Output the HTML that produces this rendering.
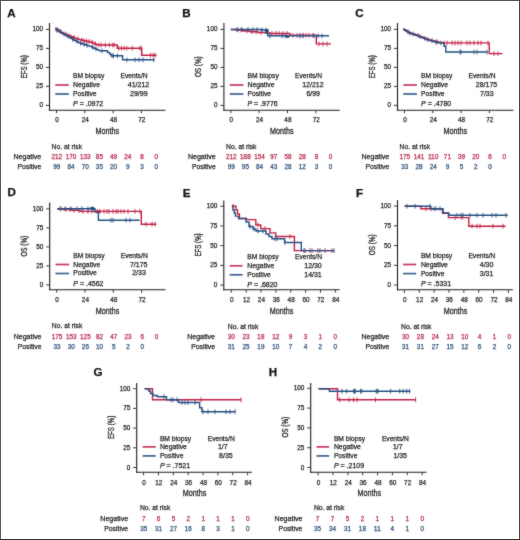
<!DOCTYPE html>
<html><head><meta charset="utf-8"><style>
html,body{margin:0;padding:0;background:#fff;}
svg{display:block;}
text{font-family:"Liberation Sans", sans-serif;paint-order:stroke;}
</style></head><body>
<svg width="520" height="540" viewBox="0 0 520 540">
<defs><filter id="bl" x="0" y="0" width="520" height="540" filterUnits="userSpaceOnUse"><feConvolveMatrix order="3" kernelMatrix="1 2 1 2 24 2 1 2 1" edgeMode="none" preserveAlpha="false"/></filter></defs>
<rect x="0" y="0" width="520" height="540" fill="#fff"/>
<g filter="url(#bl)">
<text x="7.30" y="16.70" font-size="11.6" text-anchor="start" fill="#111" stroke="#111" stroke-width="0.25" font-weight="bold">A</text>
<line x1="49.50" y1="23.00" x2="49.50" y2="110.75" stroke="#222" stroke-width="1.1"/>
<line x1="48.95" y1="110.20" x2="165.40" y2="110.20" stroke="#222" stroke-width="1.1"/>
<line x1="46.00" y1="105.40" x2="49.50" y2="105.40" stroke="#222" stroke-width="0.9"/>
<text x="43.10" y="107.40" font-size="6.9" text-anchor="end" fill="#262626" stroke="#262626" stroke-width="0.25" font-weight="normal" textLength="3.55" lengthAdjust="spacingAndGlyphs">0</text>
<line x1="46.00" y1="86.40" x2="49.50" y2="86.40" stroke="#222" stroke-width="0.9"/>
<text x="43.10" y="88.40" font-size="6.9" text-anchor="end" fill="#262626" stroke="#262626" stroke-width="0.25" font-weight="normal" textLength="7.1" lengthAdjust="spacingAndGlyphs">25</text>
<line x1="46.00" y1="67.40" x2="49.50" y2="67.40" stroke="#222" stroke-width="0.9"/>
<text x="43.10" y="69.40" font-size="6.9" text-anchor="end" fill="#262626" stroke="#262626" stroke-width="0.25" font-weight="normal" textLength="7.1" lengthAdjust="spacingAndGlyphs">50</text>
<line x1="46.00" y1="48.40" x2="49.50" y2="48.40" stroke="#222" stroke-width="0.9"/>
<text x="43.10" y="50.40" font-size="6.9" text-anchor="end" fill="#262626" stroke="#262626" stroke-width="0.25" font-weight="normal" textLength="7.1" lengthAdjust="spacingAndGlyphs">75</text>
<line x1="46.00" y1="29.40" x2="49.50" y2="29.40" stroke="#222" stroke-width="0.9"/>
<text x="43.10" y="31.40" font-size="6.9" text-anchor="end" fill="#262626" stroke="#262626" stroke-width="0.25" font-weight="normal" textLength="10.649999999999999" lengthAdjust="spacingAndGlyphs">100</text>
<line x1="56.50" y1="110.20" x2="56.50" y2="113.20" stroke="#222" stroke-width="0.9"/>
<text x="56.90" y="122.40" font-size="6.9" text-anchor="middle" fill="#262626" stroke="#262626" stroke-width="0.25" font-weight="normal" textLength="3.55" lengthAdjust="spacingAndGlyphs">0</text>
<line x1="84.80" y1="110.20" x2="84.80" y2="113.20" stroke="#222" stroke-width="0.9"/>
<text x="85.20" y="122.40" font-size="6.9" text-anchor="middle" fill="#262626" stroke="#262626" stroke-width="0.25" font-weight="normal" textLength="7.1" lengthAdjust="spacingAndGlyphs">24</text>
<line x1="113.10" y1="110.20" x2="113.10" y2="113.20" stroke="#222" stroke-width="0.9"/>
<text x="113.50" y="122.40" font-size="6.9" text-anchor="middle" fill="#262626" stroke="#262626" stroke-width="0.25" font-weight="normal" textLength="7.1" lengthAdjust="spacingAndGlyphs">48</text>
<line x1="141.40" y1="110.20" x2="141.40" y2="113.20" stroke="#222" stroke-width="0.9"/>
<text x="141.80" y="122.40" font-size="6.9" text-anchor="middle" fill="#262626" stroke="#262626" stroke-width="0.25" font-weight="normal" textLength="7.1" lengthAdjust="spacingAndGlyphs">72</text>
<text transform="translate(26.60,66.70) rotate(-90)" font-size="9.3" text-anchor="middle" fill="#262626" stroke="#262626" stroke-width="0.3" textLength="23.2" lengthAdjust="spacingAndGlyphs">EFS (%)</text>
<text x="107.40" y="134.00" font-size="9.8" text-anchor="middle" fill="#262626" stroke="#262626" stroke-width="0.3" font-weight="normal" textLength="23.6" lengthAdjust="spacingAndGlyphs">Months</text>
<text x="73.10" y="78.10" font-size="7" text-anchor="start" fill="#262626" stroke="#262626" stroke-width="0.25" font-weight="normal" textLength="31.3" lengthAdjust="spacingAndGlyphs">BM biopsy</text>
<text x="120.60" y="78.10" font-size="7" text-anchor="start" fill="#262626" stroke="#262626" stroke-width="0.25" font-weight="normal" textLength="27" lengthAdjust="spacingAndGlyphs">Events/N</text>
<line x1="55.30" y1="85.00" x2="68.90" y2="85.00" stroke="#c8385c" stroke-width="1.7"/>
<line x1="55.30" y1="94.00" x2="68.90" y2="94.00" stroke="#3a6290" stroke-width="1.7"/>
<text x="73.10" y="87.00" font-size="7" text-anchor="start" fill="#262626" stroke="#262626" stroke-width="0.25" font-weight="normal" textLength="27" lengthAdjust="spacingAndGlyphs">Negative</text>
<text x="73.10" y="95.90" font-size="7" text-anchor="start" fill="#262626" stroke="#262626" stroke-width="0.25" font-weight="normal" textLength="23.5" lengthAdjust="spacingAndGlyphs">Positive</text>
<text x="138.50" y="87.00" font-size="7" text-anchor="middle" fill="#262626" stroke="#262626" stroke-width="0.25" font-weight="normal">41/212</text>
<text x="138.80" y="95.90" font-size="7" text-anchor="middle" fill="#262626" stroke="#262626" stroke-width="0.25" font-weight="normal">29/99</text>
<text x="73.10" y="106.30" font-size="7" fill="#262626" stroke="#262626" stroke-width="0.25"><tspan font-style="italic">P</tspan> = .0972</text>
<text x="51.60" y="148.90" font-size="7" text-anchor="start" fill="#262626" stroke="#262626" stroke-width="0.25" font-weight="normal" textLength="30.5" lengthAdjust="spacingAndGlyphs">No. at risk</text>
<text x="41.30" y="159.20" font-size="7" text-anchor="end" fill="#262626" stroke="#262626" stroke-width="0.25" font-weight="normal" textLength="27.8" lengthAdjust="spacingAndGlyphs">Negative</text>
<text x="41.30" y="169.00" font-size="7" text-anchor="end" fill="#262626" stroke="#262626" stroke-width="0.25" font-weight="normal" textLength="23.8" lengthAdjust="spacingAndGlyphs">Positive</text>
<text x="56.80" y="159.20" font-size="7" text-anchor="middle" fill="#b8294c" stroke="#b8294c" stroke-width="0.25" font-weight="normal" textLength="10.649999999999999" lengthAdjust="spacingAndGlyphs">212</text>
<text x="71.00" y="159.20" font-size="7" text-anchor="middle" fill="#b8294c" stroke="#b8294c" stroke-width="0.25" font-weight="normal" textLength="10.649999999999999" lengthAdjust="spacingAndGlyphs">170</text>
<text x="85.20" y="159.20" font-size="7" text-anchor="middle" fill="#b8294c" stroke="#b8294c" stroke-width="0.25" font-weight="normal" textLength="10.649999999999999" lengthAdjust="spacingAndGlyphs">133</text>
<text x="99.40" y="159.20" font-size="7" text-anchor="middle" fill="#b8294c" stroke="#b8294c" stroke-width="0.25" font-weight="normal" textLength="7.1" lengthAdjust="spacingAndGlyphs">85</text>
<text x="113.60" y="159.20" font-size="7" text-anchor="middle" fill="#b8294c" stroke="#b8294c" stroke-width="0.25" font-weight="normal" textLength="7.1" lengthAdjust="spacingAndGlyphs">49</text>
<text x="127.80" y="159.20" font-size="7" text-anchor="middle" fill="#b8294c" stroke="#b8294c" stroke-width="0.25" font-weight="normal" textLength="7.1" lengthAdjust="spacingAndGlyphs">24</text>
<text x="142.00" y="159.20" font-size="7" text-anchor="middle" fill="#b8294c" stroke="#b8294c" stroke-width="0.25" font-weight="normal" textLength="3.55" lengthAdjust="spacingAndGlyphs">8</text>
<text x="156.20" y="159.20" font-size="7" text-anchor="middle" fill="#b8294c" stroke="#b8294c" stroke-width="0.25" font-weight="normal" textLength="3.55" lengthAdjust="spacingAndGlyphs">0</text>
<text x="56.80" y="169.00" font-size="7" text-anchor="middle" fill="#2c5078" stroke="#2c5078" stroke-width="0.25" font-weight="normal" textLength="7.1" lengthAdjust="spacingAndGlyphs">99</text>
<text x="71.00" y="169.00" font-size="7" text-anchor="middle" fill="#2c5078" stroke="#2c5078" stroke-width="0.25" font-weight="normal" textLength="7.1" lengthAdjust="spacingAndGlyphs">84</text>
<text x="85.20" y="169.00" font-size="7" text-anchor="middle" fill="#2c5078" stroke="#2c5078" stroke-width="0.25" font-weight="normal" textLength="7.1" lengthAdjust="spacingAndGlyphs">70</text>
<text x="99.40" y="169.00" font-size="7" text-anchor="middle" fill="#2c5078" stroke="#2c5078" stroke-width="0.25" font-weight="normal" textLength="7.1" lengthAdjust="spacingAndGlyphs">35</text>
<text x="113.60" y="169.00" font-size="7" text-anchor="middle" fill="#2c5078" stroke="#2c5078" stroke-width="0.25" font-weight="normal" textLength="7.1" lengthAdjust="spacingAndGlyphs">20</text>
<text x="127.80" y="169.00" font-size="7" text-anchor="middle" fill="#2c5078" stroke="#2c5078" stroke-width="0.25" font-weight="normal" textLength="3.55" lengthAdjust="spacingAndGlyphs">9</text>
<text x="142.00" y="169.00" font-size="7" text-anchor="middle" fill="#2c5078" stroke="#2c5078" stroke-width="0.25" font-weight="normal" textLength="3.55" lengthAdjust="spacingAndGlyphs">3</text>
<text x="156.20" y="169.00" font-size="7" text-anchor="middle" fill="#2c5078" stroke="#2c5078" stroke-width="0.25" font-weight="normal" textLength="3.55" lengthAdjust="spacingAndGlyphs">0</text>
<path d="M55.40,29.20 H56.96 V30.12 H58.52 V31.04 H60.08 V31.96 H61.64 V32.88 H63.20 V33.80 H64.82 V34.40 H66.44 V35.00 H68.06 V35.60 H69.68 V36.20 H71.30 V36.80 H72.75 V37.32 H74.20 V37.85 H75.65 V38.38 H77.10 V38.90 H78.57 V39.33 H80.05 V39.75 H81.53 V40.17 H83.00 V40.60 H84.58 V40.92 H86.16 V41.24 H87.74 V41.56 H89.32 V41.88 H90.90 V42.20 H92.45 V42.85 H94.00 V43.50 H95.50 V44.25 H97.00 V45.00 H117.30 V48.20 H141.70 V55.20 H156.50" fill="none" stroke="#c21f42" stroke-width="1.4" stroke-linejoin="miter"/>
<line x1="56.00" y1="26.80" x2="56.00" y2="31.60" stroke="#c21f42" stroke-width="0.85"/>
<line x1="58.00" y1="27.72" x2="58.00" y2="32.52" stroke="#c21f42" stroke-width="0.85"/>
<line x1="61.00" y1="29.56" x2="61.00" y2="34.36" stroke="#c21f42" stroke-width="0.85"/>
<line x1="66.00" y1="32.00" x2="66.00" y2="36.80" stroke="#c21f42" stroke-width="0.85"/>
<line x1="70.00" y1="33.80" x2="70.00" y2="38.60" stroke="#c21f42" stroke-width="0.85"/>
<line x1="74.00" y1="34.92" x2="74.00" y2="39.72" stroke="#c21f42" stroke-width="0.85"/>
<line x1="78.00" y1="36.50" x2="78.00" y2="41.30" stroke="#c21f42" stroke-width="0.85"/>
<line x1="82.00" y1="37.77" x2="82.00" y2="42.57" stroke="#c21f42" stroke-width="0.85"/>
<line x1="84.00" y1="38.20" x2="84.00" y2="43.00" stroke="#c21f42" stroke-width="0.85"/>
<line x1="86.50" y1="38.84" x2="86.50" y2="43.64" stroke="#c21f42" stroke-width="0.85"/>
<line x1="89.00" y1="39.16" x2="89.00" y2="43.96" stroke="#c21f42" stroke-width="0.85"/>
<line x1="92.00" y1="39.80" x2="92.00" y2="44.60" stroke="#c21f42" stroke-width="0.85"/>
<line x1="95.00" y1="41.10" x2="95.00" y2="45.90" stroke="#c21f42" stroke-width="0.85"/>
<line x1="99.00" y1="42.60" x2="99.00" y2="47.40" stroke="#c21f42" stroke-width="0.85"/>
<line x1="101.30" y1="42.60" x2="101.30" y2="47.40" stroke="#c21f42" stroke-width="0.85"/>
<line x1="105.40" y1="42.60" x2="105.40" y2="47.40" stroke="#c21f42" stroke-width="0.85"/>
<line x1="109.40" y1="42.60" x2="109.40" y2="47.40" stroke="#c21f42" stroke-width="0.85"/>
<line x1="112.80" y1="42.60" x2="112.80" y2="47.40" stroke="#c21f42" stroke-width="0.85"/>
<line x1="114.10" y1="42.60" x2="114.10" y2="47.40" stroke="#c21f42" stroke-width="0.85"/>
<line x1="118.80" y1="45.80" x2="118.80" y2="50.60" stroke="#c21f42" stroke-width="0.85"/>
<line x1="121.50" y1="45.80" x2="121.50" y2="50.60" stroke="#c21f42" stroke-width="0.85"/>
<line x1="124.20" y1="45.80" x2="124.20" y2="50.60" stroke="#c21f42" stroke-width="0.85"/>
<line x1="126.90" y1="45.80" x2="126.90" y2="50.60" stroke="#c21f42" stroke-width="0.85"/>
<line x1="132.30" y1="45.80" x2="132.30" y2="50.60" stroke="#c21f42" stroke-width="0.85"/>
<line x1="139.70" y1="45.80" x2="139.70" y2="50.60" stroke="#c21f42" stroke-width="0.85"/>
<line x1="141.20" y1="45.80" x2="141.20" y2="50.60" stroke="#c21f42" stroke-width="0.85"/>
<line x1="150.50" y1="52.80" x2="150.50" y2="57.60" stroke="#c21f42" stroke-width="0.85"/>
<line x1="153.20" y1="52.80" x2="153.20" y2="57.60" stroke="#c21f42" stroke-width="0.85"/>
<line x1="155.20" y1="52.80" x2="155.20" y2="57.60" stroke="#c21f42" stroke-width="0.85"/>
<path d="M55.40,29.20 H56.96 V30.16 H58.52 V31.12 H60.08 V32.08 H61.64 V33.04 H63.20 V34.00 H64.82 V34.92 H66.44 V35.84 H68.06 V36.76 H69.68 V37.68 H71.30 V38.60 H72.75 V39.45 H74.20 V40.30 H75.65 V41.15 H77.10 V42.00 H78.57 V42.58 H80.05 V43.15 H81.53 V43.72 H83.00 V44.30 H84.75 V44.82 H86.50 V45.35 H88.25 V45.88 H90.00 V46.40 H91.67 V47.17 H93.33 V47.93 H95.00 V48.70 H96.50 V49.40 H98.00 V50.10 H99.50 V50.80 H107.40 V52.40 H109.50 V54.00 H111.00 V55.80 H122.60 V59.80 H154.50" fill="none" stroke="#244f82" stroke-width="1.4" stroke-linejoin="miter"/>
<line x1="57.00" y1="27.76" x2="57.00" y2="32.56" stroke="#244f82" stroke-width="0.85"/>
<line x1="60.00" y1="28.72" x2="60.00" y2="33.52" stroke="#244f82" stroke-width="0.85"/>
<line x1="64.00" y1="31.60" x2="64.00" y2="36.40" stroke="#244f82" stroke-width="0.85"/>
<line x1="68.00" y1="33.44" x2="68.00" y2="38.24" stroke="#244f82" stroke-width="0.85"/>
<line x1="73.00" y1="37.05" x2="73.00" y2="41.85" stroke="#244f82" stroke-width="0.85"/>
<line x1="77.00" y1="38.75" x2="77.00" y2="43.55" stroke="#244f82" stroke-width="0.85"/>
<line x1="80.50" y1="40.75" x2="80.50" y2="45.55" stroke="#244f82" stroke-width="0.85"/>
<line x1="84.00" y1="41.90" x2="84.00" y2="46.70" stroke="#244f82" stroke-width="0.85"/>
<line x1="87.00" y1="42.95" x2="87.00" y2="47.75" stroke="#244f82" stroke-width="0.85"/>
<line x1="92.60" y1="44.77" x2="92.60" y2="49.57" stroke="#244f82" stroke-width="0.85"/>
<line x1="96.00" y1="46.30" x2="96.00" y2="51.10" stroke="#244f82" stroke-width="0.85"/>
<line x1="102.00" y1="48.40" x2="102.00" y2="53.20" stroke="#244f82" stroke-width="0.85"/>
<line x1="112.10" y1="53.40" x2="112.10" y2="58.20" stroke="#244f82" stroke-width="0.85"/>
<line x1="113.50" y1="53.40" x2="113.50" y2="58.20" stroke="#244f82" stroke-width="0.85"/>
<line x1="117.50" y1="53.40" x2="117.50" y2="58.20" stroke="#244f82" stroke-width="0.85"/>
<line x1="126.90" y1="57.40" x2="126.90" y2="62.20" stroke="#244f82" stroke-width="0.85"/>
<line x1="135.00" y1="57.40" x2="135.00" y2="62.20" stroke="#244f82" stroke-width="0.85"/>
<line x1="139.00" y1="57.40" x2="139.00" y2="62.20" stroke="#244f82" stroke-width="0.85"/>
<line x1="143.00" y1="57.40" x2="143.00" y2="62.20" stroke="#244f82" stroke-width="0.85"/>
<line x1="153.80" y1="57.40" x2="153.80" y2="62.20" stroke="#244f82" stroke-width="0.85"/>
<text x="182.20" y="16.70" font-size="11.6" text-anchor="start" fill="#111" stroke="#111" stroke-width="0.25" font-weight="bold">B</text>
<line x1="223.90" y1="23.00" x2="223.90" y2="110.75" stroke="#222" stroke-width="1.1"/>
<line x1="223.35" y1="110.20" x2="339.80" y2="110.20" stroke="#222" stroke-width="1.1"/>
<line x1="220.40" y1="105.40" x2="223.90" y2="105.40" stroke="#222" stroke-width="0.9"/>
<text x="217.50" y="107.40" font-size="6.9" text-anchor="end" fill="#262626" stroke="#262626" stroke-width="0.25" font-weight="normal" textLength="3.55" lengthAdjust="spacingAndGlyphs">0</text>
<line x1="220.40" y1="86.40" x2="223.90" y2="86.40" stroke="#222" stroke-width="0.9"/>
<text x="217.50" y="88.40" font-size="6.9" text-anchor="end" fill="#262626" stroke="#262626" stroke-width="0.25" font-weight="normal" textLength="7.1" lengthAdjust="spacingAndGlyphs">25</text>
<line x1="220.40" y1="67.40" x2="223.90" y2="67.40" stroke="#222" stroke-width="0.9"/>
<text x="217.50" y="69.40" font-size="6.9" text-anchor="end" fill="#262626" stroke="#262626" stroke-width="0.25" font-weight="normal" textLength="7.1" lengthAdjust="spacingAndGlyphs">50</text>
<line x1="220.40" y1="48.40" x2="223.90" y2="48.40" stroke="#222" stroke-width="0.9"/>
<text x="217.50" y="50.40" font-size="6.9" text-anchor="end" fill="#262626" stroke="#262626" stroke-width="0.25" font-weight="normal" textLength="7.1" lengthAdjust="spacingAndGlyphs">75</text>
<line x1="220.40" y1="29.40" x2="223.90" y2="29.40" stroke="#222" stroke-width="0.9"/>
<text x="217.50" y="31.40" font-size="6.9" text-anchor="end" fill="#262626" stroke="#262626" stroke-width="0.25" font-weight="normal" textLength="10.649999999999999" lengthAdjust="spacingAndGlyphs">100</text>
<line x1="230.90" y1="110.20" x2="230.90" y2="113.20" stroke="#222" stroke-width="0.9"/>
<text x="231.30" y="122.40" font-size="6.9" text-anchor="middle" fill="#262626" stroke="#262626" stroke-width="0.25" font-weight="normal" textLength="3.55" lengthAdjust="spacingAndGlyphs">0</text>
<line x1="259.20" y1="110.20" x2="259.20" y2="113.20" stroke="#222" stroke-width="0.9"/>
<text x="259.60" y="122.40" font-size="6.9" text-anchor="middle" fill="#262626" stroke="#262626" stroke-width="0.25" font-weight="normal" textLength="7.1" lengthAdjust="spacingAndGlyphs">24</text>
<line x1="287.50" y1="110.20" x2="287.50" y2="113.20" stroke="#222" stroke-width="0.9"/>
<text x="287.90" y="122.40" font-size="6.9" text-anchor="middle" fill="#262626" stroke="#262626" stroke-width="0.25" font-weight="normal" textLength="7.1" lengthAdjust="spacingAndGlyphs">48</text>
<line x1="315.80" y1="110.20" x2="315.80" y2="113.20" stroke="#222" stroke-width="0.9"/>
<text x="316.20" y="122.40" font-size="6.9" text-anchor="middle" fill="#262626" stroke="#262626" stroke-width="0.25" font-weight="normal" textLength="7.1" lengthAdjust="spacingAndGlyphs">72</text>
<text transform="translate(201.00,66.70) rotate(-90)" font-size="9.3" text-anchor="middle" fill="#262626" stroke="#262626" stroke-width="0.3" textLength="20.8" lengthAdjust="spacingAndGlyphs">OS (%)</text>
<text x="281.80" y="134.00" font-size="9.8" text-anchor="middle" fill="#262626" stroke="#262626" stroke-width="0.3" font-weight="normal" textLength="23.6" lengthAdjust="spacingAndGlyphs">Months</text>
<text x="247.50" y="78.10" font-size="7" text-anchor="start" fill="#262626" stroke="#262626" stroke-width="0.25" font-weight="normal" textLength="31.3" lengthAdjust="spacingAndGlyphs">BM biopsy</text>
<text x="295.00" y="78.10" font-size="7" text-anchor="start" fill="#262626" stroke="#262626" stroke-width="0.25" font-weight="normal" textLength="27" lengthAdjust="spacingAndGlyphs">Events/N</text>
<line x1="229.70" y1="85.00" x2="243.30" y2="85.00" stroke="#c8385c" stroke-width="1.7"/>
<line x1="229.70" y1="94.00" x2="243.30" y2="94.00" stroke="#3a6290" stroke-width="1.7"/>
<text x="247.50" y="87.00" font-size="7" text-anchor="start" fill="#262626" stroke="#262626" stroke-width="0.25" font-weight="normal" textLength="27" lengthAdjust="spacingAndGlyphs">Negative</text>
<text x="247.50" y="95.90" font-size="7" text-anchor="start" fill="#262626" stroke="#262626" stroke-width="0.25" font-weight="normal" textLength="23.5" lengthAdjust="spacingAndGlyphs">Positive</text>
<text x="312.90" y="87.00" font-size="7" text-anchor="middle" fill="#262626" stroke="#262626" stroke-width="0.25" font-weight="normal">12/212</text>
<text x="313.20" y="95.90" font-size="7" text-anchor="middle" fill="#262626" stroke="#262626" stroke-width="0.25" font-weight="normal">6/99</text>
<text x="247.50" y="106.30" font-size="7" fill="#262626" stroke="#262626" stroke-width="0.25"><tspan font-style="italic">P</tspan> = .9776</text>
<text x="226.00" y="148.90" font-size="7" text-anchor="start" fill="#262626" stroke="#262626" stroke-width="0.25" font-weight="normal" textLength="30.5" lengthAdjust="spacingAndGlyphs">No. at risk</text>
<text x="215.70" y="159.20" font-size="7" text-anchor="end" fill="#262626" stroke="#262626" stroke-width="0.25" font-weight="normal" textLength="27.8" lengthAdjust="spacingAndGlyphs">Negative</text>
<text x="215.70" y="169.00" font-size="7" text-anchor="end" fill="#262626" stroke="#262626" stroke-width="0.25" font-weight="normal" textLength="23.8" lengthAdjust="spacingAndGlyphs">Positive</text>
<text x="231.20" y="159.20" font-size="7" text-anchor="middle" fill="#b8294c" stroke="#b8294c" stroke-width="0.25" font-weight="normal" textLength="10.649999999999999" lengthAdjust="spacingAndGlyphs">212</text>
<text x="245.40" y="159.20" font-size="7" text-anchor="middle" fill="#b8294c" stroke="#b8294c" stroke-width="0.25" font-weight="normal" textLength="10.649999999999999" lengthAdjust="spacingAndGlyphs">188</text>
<text x="259.60" y="159.20" font-size="7" text-anchor="middle" fill="#b8294c" stroke="#b8294c" stroke-width="0.25" font-weight="normal" textLength="10.649999999999999" lengthAdjust="spacingAndGlyphs">154</text>
<text x="273.80" y="159.20" font-size="7" text-anchor="middle" fill="#b8294c" stroke="#b8294c" stroke-width="0.25" font-weight="normal" textLength="7.1" lengthAdjust="spacingAndGlyphs">97</text>
<text x="288.00" y="159.20" font-size="7" text-anchor="middle" fill="#b8294c" stroke="#b8294c" stroke-width="0.25" font-weight="normal" textLength="7.1" lengthAdjust="spacingAndGlyphs">58</text>
<text x="302.20" y="159.20" font-size="7" text-anchor="middle" fill="#b8294c" stroke="#b8294c" stroke-width="0.25" font-weight="normal" textLength="7.1" lengthAdjust="spacingAndGlyphs">28</text>
<text x="316.40" y="159.20" font-size="7" text-anchor="middle" fill="#b8294c" stroke="#b8294c" stroke-width="0.25" font-weight="normal" textLength="3.55" lengthAdjust="spacingAndGlyphs">8</text>
<text x="330.60" y="159.20" font-size="7" text-anchor="middle" fill="#b8294c" stroke="#b8294c" stroke-width="0.25" font-weight="normal" textLength="3.55" lengthAdjust="spacingAndGlyphs">0</text>
<text x="231.20" y="169.00" font-size="7" text-anchor="middle" fill="#2c5078" stroke="#2c5078" stroke-width="0.25" font-weight="normal" textLength="7.1" lengthAdjust="spacingAndGlyphs">99</text>
<text x="245.40" y="169.00" font-size="7" text-anchor="middle" fill="#2c5078" stroke="#2c5078" stroke-width="0.25" font-weight="normal" textLength="7.1" lengthAdjust="spacingAndGlyphs">95</text>
<text x="259.60" y="169.00" font-size="7" text-anchor="middle" fill="#2c5078" stroke="#2c5078" stroke-width="0.25" font-weight="normal" textLength="7.1" lengthAdjust="spacingAndGlyphs">84</text>
<text x="273.80" y="169.00" font-size="7" text-anchor="middle" fill="#2c5078" stroke="#2c5078" stroke-width="0.25" font-weight="normal" textLength="7.1" lengthAdjust="spacingAndGlyphs">43</text>
<text x="288.00" y="169.00" font-size="7" text-anchor="middle" fill="#2c5078" stroke="#2c5078" stroke-width="0.25" font-weight="normal" textLength="7.1" lengthAdjust="spacingAndGlyphs">28</text>
<text x="302.20" y="169.00" font-size="7" text-anchor="middle" fill="#2c5078" stroke="#2c5078" stroke-width="0.25" font-weight="normal" textLength="7.1" lengthAdjust="spacingAndGlyphs">12</text>
<text x="316.40" y="169.00" font-size="7" text-anchor="middle" fill="#2c5078" stroke="#2c5078" stroke-width="0.25" font-weight="normal" textLength="3.55" lengthAdjust="spacingAndGlyphs">3</text>
<text x="330.60" y="169.00" font-size="7" text-anchor="middle" fill="#2c5078" stroke="#2c5078" stroke-width="0.25" font-weight="normal" textLength="3.55" lengthAdjust="spacingAndGlyphs">0</text>
<path d="M230.80,29.50 H236.00 V30.00 H243.00 V31.00 H250.00 V31.80 H258.00 V32.50 H266.00 V33.00 H270.00 V33.50 H290.00 V35.30 H316.30 V43.90 H331.00" fill="none" stroke="#c21f42" stroke-width="1.4" stroke-linejoin="miter"/>
<line x1="238.00" y1="27.60" x2="238.00" y2="32.40" stroke="#c21f42" stroke-width="0.85"/>
<line x1="241.00" y1="27.60" x2="241.00" y2="32.40" stroke="#c21f42" stroke-width="0.85"/>
<line x1="247.00" y1="28.60" x2="247.00" y2="33.40" stroke="#c21f42" stroke-width="0.85"/>
<line x1="252.00" y1="29.40" x2="252.00" y2="34.20" stroke="#c21f42" stroke-width="0.85"/>
<line x1="256.00" y1="29.40" x2="256.00" y2="34.20" stroke="#c21f42" stroke-width="0.85"/>
<line x1="261.00" y1="30.10" x2="261.00" y2="34.90" stroke="#c21f42" stroke-width="0.85"/>
<line x1="272.00" y1="31.10" x2="272.00" y2="35.90" stroke="#c21f42" stroke-width="0.85"/>
<line x1="276.00" y1="31.10" x2="276.00" y2="35.90" stroke="#c21f42" stroke-width="0.85"/>
<line x1="279.00" y1="31.10" x2="279.00" y2="35.90" stroke="#c21f42" stroke-width="0.85"/>
<line x1="283.00" y1="31.10" x2="283.00" y2="35.90" stroke="#c21f42" stroke-width="0.85"/>
<line x1="287.00" y1="31.10" x2="287.00" y2="35.90" stroke="#c21f42" stroke-width="0.85"/>
<line x1="293.00" y1="32.90" x2="293.00" y2="37.70" stroke="#c21f42" stroke-width="0.85"/>
<line x1="297.00" y1="32.90" x2="297.00" y2="37.70" stroke="#c21f42" stroke-width="0.85"/>
<line x1="300.00" y1="32.90" x2="300.00" y2="37.70" stroke="#c21f42" stroke-width="0.85"/>
<line x1="303.00" y1="32.90" x2="303.00" y2="37.70" stroke="#c21f42" stroke-width="0.85"/>
<line x1="306.00" y1="32.90" x2="306.00" y2="37.70" stroke="#c21f42" stroke-width="0.85"/>
<line x1="309.00" y1="32.90" x2="309.00" y2="37.70" stroke="#c21f42" stroke-width="0.85"/>
<line x1="313.00" y1="32.90" x2="313.00" y2="37.70" stroke="#c21f42" stroke-width="0.85"/>
<line x1="319.00" y1="41.50" x2="319.00" y2="46.30" stroke="#c21f42" stroke-width="0.85"/>
<line x1="323.00" y1="41.50" x2="323.00" y2="46.30" stroke="#c21f42" stroke-width="0.85"/>
<line x1="327.00" y1="41.50" x2="327.00" y2="46.30" stroke="#c21f42" stroke-width="0.85"/>
<path d="M230.80,29.50 H262.00 V30.00 H267.70 V35.80 H329.00" fill="none" stroke="#244f82" stroke-width="1.4" stroke-linejoin="miter"/>
<line x1="237.00" y1="27.10" x2="237.00" y2="31.90" stroke="#244f82" stroke-width="0.85"/>
<line x1="242.00" y1="27.10" x2="242.00" y2="31.90" stroke="#244f82" stroke-width="0.85"/>
<line x1="248.00" y1="27.10" x2="248.00" y2="31.90" stroke="#244f82" stroke-width="0.85"/>
<line x1="253.00" y1="27.10" x2="253.00" y2="31.90" stroke="#244f82" stroke-width="0.85"/>
<line x1="257.00" y1="27.10" x2="257.00" y2="31.90" stroke="#244f82" stroke-width="0.85"/>
<line x1="262.00" y1="27.60" x2="262.00" y2="32.40" stroke="#244f82" stroke-width="0.85"/>
<line x1="266.00" y1="27.60" x2="266.00" y2="32.40" stroke="#244f82" stroke-width="0.85"/>
<line x1="270.00" y1="33.40" x2="270.00" y2="38.20" stroke="#244f82" stroke-width="0.85"/>
<line x1="282.00" y1="33.40" x2="282.00" y2="38.20" stroke="#244f82" stroke-width="0.85"/>
<line x1="285.00" y1="33.40" x2="285.00" y2="38.20" stroke="#244f82" stroke-width="0.85"/>
<line x1="300.00" y1="33.40" x2="300.00" y2="38.20" stroke="#244f82" stroke-width="0.85"/>
<line x1="303.00" y1="33.40" x2="303.00" y2="38.20" stroke="#244f82" stroke-width="0.85"/>
<line x1="314.00" y1="33.40" x2="314.00" y2="38.20" stroke="#244f82" stroke-width="0.85"/>
<line x1="318.00" y1="33.40" x2="318.00" y2="38.20" stroke="#244f82" stroke-width="0.85"/>
<line x1="322.00" y1="33.40" x2="322.00" y2="38.20" stroke="#244f82" stroke-width="0.85"/>
<rect x="265.0" y="29.0" width="3.4" height="4.6" fill="#244f82"/>
<rect x="285.8" y="35.0" width="3.4" height="2.8" fill="#244f82"/>
<text x="355.30" y="16.70" font-size="11.6" text-anchor="start" fill="#111" stroke="#111" stroke-width="0.25" font-weight="bold">C</text>
<line x1="397.50" y1="23.00" x2="397.50" y2="110.75" stroke="#222" stroke-width="1.1"/>
<line x1="396.95" y1="110.20" x2="513.40" y2="110.20" stroke="#222" stroke-width="1.1"/>
<line x1="394.00" y1="105.40" x2="397.50" y2="105.40" stroke="#222" stroke-width="0.9"/>
<text x="391.10" y="107.40" font-size="6.9" text-anchor="end" fill="#262626" stroke="#262626" stroke-width="0.25" font-weight="normal" textLength="3.55" lengthAdjust="spacingAndGlyphs">0</text>
<line x1="394.00" y1="86.40" x2="397.50" y2="86.40" stroke="#222" stroke-width="0.9"/>
<text x="391.10" y="88.40" font-size="6.9" text-anchor="end" fill="#262626" stroke="#262626" stroke-width="0.25" font-weight="normal" textLength="7.1" lengthAdjust="spacingAndGlyphs">25</text>
<line x1="394.00" y1="67.40" x2="397.50" y2="67.40" stroke="#222" stroke-width="0.9"/>
<text x="391.10" y="69.40" font-size="6.9" text-anchor="end" fill="#262626" stroke="#262626" stroke-width="0.25" font-weight="normal" textLength="7.1" lengthAdjust="spacingAndGlyphs">50</text>
<line x1="394.00" y1="48.40" x2="397.50" y2="48.40" stroke="#222" stroke-width="0.9"/>
<text x="391.10" y="50.40" font-size="6.9" text-anchor="end" fill="#262626" stroke="#262626" stroke-width="0.25" font-weight="normal" textLength="7.1" lengthAdjust="spacingAndGlyphs">75</text>
<line x1="394.00" y1="29.40" x2="397.50" y2="29.40" stroke="#222" stroke-width="0.9"/>
<text x="391.10" y="31.40" font-size="6.9" text-anchor="end" fill="#262626" stroke="#262626" stroke-width="0.25" font-weight="normal" textLength="10.649999999999999" lengthAdjust="spacingAndGlyphs">100</text>
<line x1="404.50" y1="110.20" x2="404.50" y2="113.20" stroke="#222" stroke-width="0.9"/>
<text x="404.90" y="122.40" font-size="6.9" text-anchor="middle" fill="#262626" stroke="#262626" stroke-width="0.25" font-weight="normal" textLength="3.55" lengthAdjust="spacingAndGlyphs">0</text>
<line x1="432.80" y1="110.20" x2="432.80" y2="113.20" stroke="#222" stroke-width="0.9"/>
<text x="433.20" y="122.40" font-size="6.9" text-anchor="middle" fill="#262626" stroke="#262626" stroke-width="0.25" font-weight="normal" textLength="7.1" lengthAdjust="spacingAndGlyphs">24</text>
<line x1="461.10" y1="110.20" x2="461.10" y2="113.20" stroke="#222" stroke-width="0.9"/>
<text x="461.50" y="122.40" font-size="6.9" text-anchor="middle" fill="#262626" stroke="#262626" stroke-width="0.25" font-weight="normal" textLength="7.1" lengthAdjust="spacingAndGlyphs">48</text>
<line x1="489.40" y1="110.20" x2="489.40" y2="113.20" stroke="#222" stroke-width="0.9"/>
<text x="489.80" y="122.40" font-size="6.9" text-anchor="middle" fill="#262626" stroke="#262626" stroke-width="0.25" font-weight="normal" textLength="7.1" lengthAdjust="spacingAndGlyphs">72</text>
<text transform="translate(374.60,66.70) rotate(-90)" font-size="9.3" text-anchor="middle" fill="#262626" stroke="#262626" stroke-width="0.3" textLength="23.2" lengthAdjust="spacingAndGlyphs">EFS (%)</text>
<text x="455.40" y="134.00" font-size="9.8" text-anchor="middle" fill="#262626" stroke="#262626" stroke-width="0.3" font-weight="normal" textLength="23.6" lengthAdjust="spacingAndGlyphs">Months</text>
<text x="421.10" y="78.10" font-size="7" text-anchor="start" fill="#262626" stroke="#262626" stroke-width="0.25" font-weight="normal" textLength="31.3" lengthAdjust="spacingAndGlyphs">BM biopsy</text>
<text x="468.60" y="78.10" font-size="7" text-anchor="start" fill="#262626" stroke="#262626" stroke-width="0.25" font-weight="normal" textLength="27" lengthAdjust="spacingAndGlyphs">Events/N</text>
<line x1="403.30" y1="85.00" x2="416.90" y2="85.00" stroke="#c8385c" stroke-width="1.7"/>
<line x1="403.30" y1="94.00" x2="416.90" y2="94.00" stroke="#3a6290" stroke-width="1.7"/>
<text x="421.10" y="87.00" font-size="7" text-anchor="start" fill="#262626" stroke="#262626" stroke-width="0.25" font-weight="normal" textLength="27" lengthAdjust="spacingAndGlyphs">Negative</text>
<text x="421.10" y="95.90" font-size="7" text-anchor="start" fill="#262626" stroke="#262626" stroke-width="0.25" font-weight="normal" textLength="23.5" lengthAdjust="spacingAndGlyphs">Positive</text>
<text x="486.50" y="87.00" font-size="7" text-anchor="middle" fill="#262626" stroke="#262626" stroke-width="0.25" font-weight="normal">28/175</text>
<text x="486.80" y="95.90" font-size="7" text-anchor="middle" fill="#262626" stroke="#262626" stroke-width="0.25" font-weight="normal">7/33</text>
<text x="421.10" y="106.30" font-size="7" fill="#262626" stroke="#262626" stroke-width="0.25"><tspan font-style="italic">P</tspan> = .4780</text>
<text x="399.60" y="148.90" font-size="7" text-anchor="start" fill="#262626" stroke="#262626" stroke-width="0.25" font-weight="normal" textLength="30.5" lengthAdjust="spacingAndGlyphs">No. at risk</text>
<text x="389.30" y="159.20" font-size="7" text-anchor="end" fill="#262626" stroke="#262626" stroke-width="0.25" font-weight="normal" textLength="27.8" lengthAdjust="spacingAndGlyphs">Negative</text>
<text x="389.30" y="169.00" font-size="7" text-anchor="end" fill="#262626" stroke="#262626" stroke-width="0.25" font-weight="normal" textLength="23.8" lengthAdjust="spacingAndGlyphs">Positive</text>
<text x="404.80" y="159.20" font-size="7" text-anchor="middle" fill="#b8294c" stroke="#b8294c" stroke-width="0.25" font-weight="normal" textLength="10.649999999999999" lengthAdjust="spacingAndGlyphs">175</text>
<text x="419.00" y="159.20" font-size="7" text-anchor="middle" fill="#b8294c" stroke="#b8294c" stroke-width="0.25" font-weight="normal" textLength="10.649999999999999" lengthAdjust="spacingAndGlyphs">141</text>
<text x="433.20" y="159.20" font-size="7" text-anchor="middle" fill="#b8294c" stroke="#b8294c" stroke-width="0.25" font-weight="normal" textLength="10.649999999999999" lengthAdjust="spacingAndGlyphs">110</text>
<text x="447.40" y="159.20" font-size="7" text-anchor="middle" fill="#b8294c" stroke="#b8294c" stroke-width="0.25" font-weight="normal" textLength="7.1" lengthAdjust="spacingAndGlyphs">71</text>
<text x="461.60" y="159.20" font-size="7" text-anchor="middle" fill="#b8294c" stroke="#b8294c" stroke-width="0.25" font-weight="normal" textLength="7.1" lengthAdjust="spacingAndGlyphs">39</text>
<text x="475.80" y="159.20" font-size="7" text-anchor="middle" fill="#b8294c" stroke="#b8294c" stroke-width="0.25" font-weight="normal" textLength="7.1" lengthAdjust="spacingAndGlyphs">20</text>
<text x="490.00" y="159.20" font-size="7" text-anchor="middle" fill="#b8294c" stroke="#b8294c" stroke-width="0.25" font-weight="normal" textLength="3.55" lengthAdjust="spacingAndGlyphs">6</text>
<text x="504.20" y="159.20" font-size="7" text-anchor="middle" fill="#b8294c" stroke="#b8294c" stroke-width="0.25" font-weight="normal" textLength="3.55" lengthAdjust="spacingAndGlyphs">0</text>
<text x="404.80" y="169.00" font-size="7" text-anchor="middle" fill="#2c5078" stroke="#2c5078" stroke-width="0.25" font-weight="normal" textLength="7.1" lengthAdjust="spacingAndGlyphs">33</text>
<text x="419.00" y="169.00" font-size="7" text-anchor="middle" fill="#2c5078" stroke="#2c5078" stroke-width="0.25" font-weight="normal" textLength="7.1" lengthAdjust="spacingAndGlyphs">28</text>
<text x="433.20" y="169.00" font-size="7" text-anchor="middle" fill="#2c5078" stroke="#2c5078" stroke-width="0.25" font-weight="normal" textLength="7.1" lengthAdjust="spacingAndGlyphs">24</text>
<text x="447.40" y="169.00" font-size="7" text-anchor="middle" fill="#2c5078" stroke="#2c5078" stroke-width="0.25" font-weight="normal" textLength="3.55" lengthAdjust="spacingAndGlyphs">9</text>
<text x="461.60" y="169.00" font-size="7" text-anchor="middle" fill="#2c5078" stroke="#2c5078" stroke-width="0.25" font-weight="normal" textLength="3.55" lengthAdjust="spacingAndGlyphs">5</text>
<text x="475.80" y="169.00" font-size="7" text-anchor="middle" fill="#2c5078" stroke="#2c5078" stroke-width="0.25" font-weight="normal" textLength="3.55" lengthAdjust="spacingAndGlyphs">2</text>
<text x="490.00" y="169.00" font-size="7" text-anchor="middle" fill="#2c5078" stroke="#2c5078" stroke-width="0.25" font-weight="normal" textLength="3.55" lengthAdjust="spacingAndGlyphs">0</text>
<path d="M403.20,29.10 H404.20 V29.70 H405.20 V30.30 H406.20 V30.90 H407.20 V31.50 H408.20 V32.10 H409.20 V32.80 H411.00 V33.40 H413.00 V34.00 H415.00 V34.70 H417.00 V35.40 H419.00 V36.10 H421.00 V36.90 H423.00 V37.70 H425.00 V38.50 H427.00 V39.30 H429.00 V39.90 H431.00 V40.50 H433.00 V41.00 H435.00 V41.50 H437.00 V42.00 H439.00 V42.50 H441.00 V42.90 H489.20 V53.60 H502.50" fill="none" stroke="#c21f42" stroke-width="1.4" stroke-linejoin="miter"/>
<line x1="408.00" y1="29.10" x2="408.00" y2="33.90" stroke="#c21f42" stroke-width="0.85"/>
<line x1="413.00" y1="31.60" x2="413.00" y2="36.40" stroke="#c21f42" stroke-width="0.85"/>
<line x1="418.00" y1="33.00" x2="418.00" y2="37.80" stroke="#c21f42" stroke-width="0.85"/>
<line x1="425.00" y1="36.10" x2="425.00" y2="40.90" stroke="#c21f42" stroke-width="0.85"/>
<line x1="432.00" y1="38.10" x2="432.00" y2="42.90" stroke="#c21f42" stroke-width="0.85"/>
<line x1="437.00" y1="39.60" x2="437.00" y2="44.40" stroke="#c21f42" stroke-width="0.85"/>
<line x1="444.00" y1="40.50" x2="444.00" y2="45.30" stroke="#c21f42" stroke-width="0.85"/>
<line x1="447.00" y1="40.50" x2="447.00" y2="45.30" stroke="#c21f42" stroke-width="0.85"/>
<line x1="452.00" y1="40.50" x2="452.00" y2="45.30" stroke="#c21f42" stroke-width="0.85"/>
<line x1="455.00" y1="40.50" x2="455.00" y2="45.30" stroke="#c21f42" stroke-width="0.85"/>
<line x1="458.00" y1="40.50" x2="458.00" y2="45.30" stroke="#c21f42" stroke-width="0.85"/>
<line x1="461.00" y1="40.50" x2="461.00" y2="45.30" stroke="#c21f42" stroke-width="0.85"/>
<line x1="467.00" y1="40.50" x2="467.00" y2="45.30" stroke="#c21f42" stroke-width="0.85"/>
<line x1="470.00" y1="40.50" x2="470.00" y2="45.30" stroke="#c21f42" stroke-width="0.85"/>
<line x1="474.00" y1="40.50" x2="474.00" y2="45.30" stroke="#c21f42" stroke-width="0.85"/>
<line x1="478.00" y1="40.50" x2="478.00" y2="45.30" stroke="#c21f42" stroke-width="0.85"/>
<line x1="481.00" y1="40.50" x2="481.00" y2="45.30" stroke="#c21f42" stroke-width="0.85"/>
<line x1="488.00" y1="40.50" x2="488.00" y2="45.30" stroke="#c21f42" stroke-width="0.85"/>
<line x1="494.00" y1="51.20" x2="494.00" y2="56.00" stroke="#c21f42" stroke-width="0.85"/>
<line x1="498.00" y1="51.20" x2="498.00" y2="56.00" stroke="#c21f42" stroke-width="0.85"/>
<path d="M403.20,29.10 H404.20 V29.80 H405.20 V30.50 H406.20 V31.20 H407.20 V31.90 H408.20 V32.50 H409.20 V33.10 H411.00 V33.80 H413.00 V34.50 H415.00 V35.20 H417.00 V35.90 H419.00 V36.60 H421.00 V37.40 H423.00 V38.20 H425.00 V39.00 H427.00 V39.80 H429.00 V40.40 H431.00 V41.00 H433.00 V41.50 H435.00 V42.00 H437.00 V42.50 H439.00 V42.90 H444.20 V46.20 H445.80 V52.00 H487.50" fill="none" stroke="#244f82" stroke-width="1.4" stroke-linejoin="miter"/>
<line x1="410.00" y1="30.70" x2="410.00" y2="35.50" stroke="#244f82" stroke-width="0.85"/>
<line x1="420.00" y1="34.20" x2="420.00" y2="39.00" stroke="#244f82" stroke-width="0.85"/>
<line x1="428.00" y1="37.40" x2="428.00" y2="42.20" stroke="#244f82" stroke-width="0.85"/>
<line x1="436.00" y1="39.60" x2="436.00" y2="44.40" stroke="#244f82" stroke-width="0.85"/>
<line x1="441.00" y1="40.50" x2="441.00" y2="45.30" stroke="#244f82" stroke-width="0.85"/>
<line x1="460.00" y1="49.60" x2="460.00" y2="54.40" stroke="#244f82" stroke-width="0.85"/>
<line x1="461.00" y1="49.60" x2="461.00" y2="54.40" stroke="#244f82" stroke-width="0.85"/>
<line x1="474.00" y1="49.60" x2="474.00" y2="54.40" stroke="#244f82" stroke-width="0.85"/>
<line x1="477.00" y1="49.60" x2="477.00" y2="54.40" stroke="#244f82" stroke-width="0.85"/>
<line x1="487.00" y1="49.60" x2="487.00" y2="54.40" stroke="#244f82" stroke-width="0.85"/>
<text x="7.50" y="196.20" font-size="11.6" text-anchor="start" fill="#111" stroke="#111" stroke-width="0.25" font-weight="bold">D</text>
<line x1="49.70" y1="202.50" x2="49.70" y2="290.25" stroke="#222" stroke-width="1.1"/>
<line x1="49.15" y1="289.70" x2="165.60" y2="289.70" stroke="#222" stroke-width="1.1"/>
<line x1="46.20" y1="284.90" x2="49.70" y2="284.90" stroke="#222" stroke-width="0.9"/>
<text x="43.30" y="286.90" font-size="6.9" text-anchor="end" fill="#262626" stroke="#262626" stroke-width="0.25" font-weight="normal" textLength="3.55" lengthAdjust="spacingAndGlyphs">0</text>
<line x1="46.20" y1="265.90" x2="49.70" y2="265.90" stroke="#222" stroke-width="0.9"/>
<text x="43.30" y="267.90" font-size="6.9" text-anchor="end" fill="#262626" stroke="#262626" stroke-width="0.25" font-weight="normal" textLength="7.1" lengthAdjust="spacingAndGlyphs">25</text>
<line x1="46.20" y1="246.90" x2="49.70" y2="246.90" stroke="#222" stroke-width="0.9"/>
<text x="43.30" y="248.90" font-size="6.9" text-anchor="end" fill="#262626" stroke="#262626" stroke-width="0.25" font-weight="normal" textLength="7.1" lengthAdjust="spacingAndGlyphs">50</text>
<line x1="46.20" y1="227.90" x2="49.70" y2="227.90" stroke="#222" stroke-width="0.9"/>
<text x="43.30" y="229.90" font-size="6.9" text-anchor="end" fill="#262626" stroke="#262626" stroke-width="0.25" font-weight="normal" textLength="7.1" lengthAdjust="spacingAndGlyphs">75</text>
<line x1="46.20" y1="208.90" x2="49.70" y2="208.90" stroke="#222" stroke-width="0.9"/>
<text x="43.30" y="210.90" font-size="6.9" text-anchor="end" fill="#262626" stroke="#262626" stroke-width="0.25" font-weight="normal" textLength="10.649999999999999" lengthAdjust="spacingAndGlyphs">100</text>
<line x1="56.70" y1="289.70" x2="56.70" y2="292.70" stroke="#222" stroke-width="0.9"/>
<text x="57.10" y="301.90" font-size="6.9" text-anchor="middle" fill="#262626" stroke="#262626" stroke-width="0.25" font-weight="normal" textLength="3.55" lengthAdjust="spacingAndGlyphs">0</text>
<line x1="85.00" y1="289.70" x2="85.00" y2="292.70" stroke="#222" stroke-width="0.9"/>
<text x="85.40" y="301.90" font-size="6.9" text-anchor="middle" fill="#262626" stroke="#262626" stroke-width="0.25" font-weight="normal" textLength="7.1" lengthAdjust="spacingAndGlyphs">24</text>
<line x1="113.30" y1="289.70" x2="113.30" y2="292.70" stroke="#222" stroke-width="0.9"/>
<text x="113.70" y="301.90" font-size="6.9" text-anchor="middle" fill="#262626" stroke="#262626" stroke-width="0.25" font-weight="normal" textLength="7.1" lengthAdjust="spacingAndGlyphs">48</text>
<line x1="141.60" y1="289.70" x2="141.60" y2="292.70" stroke="#222" stroke-width="0.9"/>
<text x="142.00" y="301.90" font-size="6.9" text-anchor="middle" fill="#262626" stroke="#262626" stroke-width="0.25" font-weight="normal" textLength="7.1" lengthAdjust="spacingAndGlyphs">72</text>
<text transform="translate(26.80,246.20) rotate(-90)" font-size="9.3" text-anchor="middle" fill="#262626" stroke="#262626" stroke-width="0.3" textLength="20.8" lengthAdjust="spacingAndGlyphs">OS (%)</text>
<text x="107.60" y="313.50" font-size="9.8" text-anchor="middle" fill="#262626" stroke="#262626" stroke-width="0.3" font-weight="normal" textLength="23.6" lengthAdjust="spacingAndGlyphs">Months</text>
<text x="73.30" y="257.60" font-size="7" text-anchor="start" fill="#262626" stroke="#262626" stroke-width="0.25" font-weight="normal" textLength="31.3" lengthAdjust="spacingAndGlyphs">BM biopsy</text>
<text x="120.80" y="257.60" font-size="7" text-anchor="start" fill="#262626" stroke="#262626" stroke-width="0.25" font-weight="normal" textLength="27" lengthAdjust="spacingAndGlyphs">Events/N</text>
<line x1="55.50" y1="264.50" x2="69.10" y2="264.50" stroke="#c8385c" stroke-width="1.7"/>
<line x1="55.50" y1="273.50" x2="69.10" y2="273.50" stroke="#3a6290" stroke-width="1.7"/>
<text x="73.30" y="266.50" font-size="7" text-anchor="start" fill="#262626" stroke="#262626" stroke-width="0.25" font-weight="normal" textLength="27" lengthAdjust="spacingAndGlyphs">Negative</text>
<text x="73.30" y="275.40" font-size="7" text-anchor="start" fill="#262626" stroke="#262626" stroke-width="0.25" font-weight="normal" textLength="23.5" lengthAdjust="spacingAndGlyphs">Positive</text>
<text x="138.70" y="266.50" font-size="7" text-anchor="middle" fill="#262626" stroke="#262626" stroke-width="0.25" font-weight="normal">7/175</text>
<text x="139.00" y="275.40" font-size="7" text-anchor="middle" fill="#262626" stroke="#262626" stroke-width="0.25" font-weight="normal">2/33</text>
<text x="73.30" y="285.80" font-size="7" fill="#262626" stroke="#262626" stroke-width="0.25"><tspan font-style="italic">P</tspan> = .4562</text>
<text x="51.80" y="328.40" font-size="7" text-anchor="start" fill="#262626" stroke="#262626" stroke-width="0.25" font-weight="normal" textLength="30.5" lengthAdjust="spacingAndGlyphs">No. at risk</text>
<text x="41.50" y="338.70" font-size="7" text-anchor="end" fill="#262626" stroke="#262626" stroke-width="0.25" font-weight="normal" textLength="27.8" lengthAdjust="spacingAndGlyphs">Negative</text>
<text x="41.50" y="348.50" font-size="7" text-anchor="end" fill="#262626" stroke="#262626" stroke-width="0.25" font-weight="normal" textLength="23.8" lengthAdjust="spacingAndGlyphs">Positive</text>
<text x="57.00" y="338.70" font-size="7" text-anchor="middle" fill="#b8294c" stroke="#b8294c" stroke-width="0.25" font-weight="normal" textLength="10.649999999999999" lengthAdjust="spacingAndGlyphs">175</text>
<text x="71.20" y="338.70" font-size="7" text-anchor="middle" fill="#b8294c" stroke="#b8294c" stroke-width="0.25" font-weight="normal" textLength="10.649999999999999" lengthAdjust="spacingAndGlyphs">153</text>
<text x="85.40" y="338.70" font-size="7" text-anchor="middle" fill="#b8294c" stroke="#b8294c" stroke-width="0.25" font-weight="normal" textLength="10.649999999999999" lengthAdjust="spacingAndGlyphs">125</text>
<text x="99.60" y="338.70" font-size="7" text-anchor="middle" fill="#b8294c" stroke="#b8294c" stroke-width="0.25" font-weight="normal" textLength="7.1" lengthAdjust="spacingAndGlyphs">82</text>
<text x="113.80" y="338.70" font-size="7" text-anchor="middle" fill="#b8294c" stroke="#b8294c" stroke-width="0.25" font-weight="normal" textLength="7.1" lengthAdjust="spacingAndGlyphs">47</text>
<text x="128.00" y="338.70" font-size="7" text-anchor="middle" fill="#b8294c" stroke="#b8294c" stroke-width="0.25" font-weight="normal" textLength="7.1" lengthAdjust="spacingAndGlyphs">23</text>
<text x="142.20" y="338.70" font-size="7" text-anchor="middle" fill="#b8294c" stroke="#b8294c" stroke-width="0.25" font-weight="normal" textLength="3.55" lengthAdjust="spacingAndGlyphs">6</text>
<text x="156.40" y="338.70" font-size="7" text-anchor="middle" fill="#b8294c" stroke="#b8294c" stroke-width="0.25" font-weight="normal" textLength="3.55" lengthAdjust="spacingAndGlyphs">0</text>
<text x="57.00" y="348.50" font-size="7" text-anchor="middle" fill="#2c5078" stroke="#2c5078" stroke-width="0.25" font-weight="normal" textLength="7.1" lengthAdjust="spacingAndGlyphs">33</text>
<text x="71.20" y="348.50" font-size="7" text-anchor="middle" fill="#2c5078" stroke="#2c5078" stroke-width="0.25" font-weight="normal" textLength="7.1" lengthAdjust="spacingAndGlyphs">30</text>
<text x="85.40" y="348.50" font-size="7" text-anchor="middle" fill="#2c5078" stroke="#2c5078" stroke-width="0.25" font-weight="normal" textLength="7.1" lengthAdjust="spacingAndGlyphs">26</text>
<text x="99.60" y="348.50" font-size="7" text-anchor="middle" fill="#2c5078" stroke="#2c5078" stroke-width="0.25" font-weight="normal" textLength="7.1" lengthAdjust="spacingAndGlyphs">10</text>
<text x="113.80" y="348.50" font-size="7" text-anchor="middle" fill="#2c5078" stroke="#2c5078" stroke-width="0.25" font-weight="normal" textLength="3.55" lengthAdjust="spacingAndGlyphs">5</text>
<text x="128.00" y="348.50" font-size="7" text-anchor="middle" fill="#2c5078" stroke="#2c5078" stroke-width="0.25" font-weight="normal" textLength="3.55" lengthAdjust="spacingAndGlyphs">2</text>
<text x="142.20" y="348.50" font-size="7" text-anchor="middle" fill="#2c5078" stroke="#2c5078" stroke-width="0.25" font-weight="normal" textLength="3.55" lengthAdjust="spacingAndGlyphs">0</text>
<path d="M57.10,208.70 H63.00 V209.50 H72.00 V210.40 H80.00 V211.40 H141.30 V224.20 H156.30" fill="none" stroke="#c21f42" stroke-width="1.4" stroke-linejoin="miter"/>
<line x1="61.00" y1="206.30" x2="61.00" y2="211.10" stroke="#c21f42" stroke-width="0.85"/>
<line x1="66.00" y1="207.10" x2="66.00" y2="211.90" stroke="#c21f42" stroke-width="0.85"/>
<line x1="70.00" y1="207.10" x2="70.00" y2="211.90" stroke="#c21f42" stroke-width="0.85"/>
<line x1="74.00" y1="208.00" x2="74.00" y2="212.80" stroke="#c21f42" stroke-width="0.85"/>
<line x1="79.00" y1="208.00" x2="79.00" y2="212.80" stroke="#c21f42" stroke-width="0.85"/>
<line x1="83.00" y1="209.00" x2="83.00" y2="213.80" stroke="#c21f42" stroke-width="0.85"/>
<line x1="88.00" y1="209.00" x2="88.00" y2="213.80" stroke="#c21f42" stroke-width="0.85"/>
<line x1="92.00" y1="209.00" x2="92.00" y2="213.80" stroke="#c21f42" stroke-width="0.85"/>
<line x1="97.00" y1="209.00" x2="97.00" y2="213.80" stroke="#c21f42" stroke-width="0.85"/>
<line x1="100.00" y1="209.00" x2="100.00" y2="213.80" stroke="#c21f42" stroke-width="0.85"/>
<line x1="104.00" y1="209.00" x2="104.00" y2="213.80" stroke="#c21f42" stroke-width="0.85"/>
<line x1="107.00" y1="209.00" x2="107.00" y2="213.80" stroke="#c21f42" stroke-width="0.85"/>
<line x1="109.00" y1="209.00" x2="109.00" y2="213.80" stroke="#c21f42" stroke-width="0.85"/>
<line x1="113.00" y1="209.00" x2="113.00" y2="213.80" stroke="#c21f42" stroke-width="0.85"/>
<line x1="116.00" y1="209.00" x2="116.00" y2="213.80" stroke="#c21f42" stroke-width="0.85"/>
<line x1="118.00" y1="209.00" x2="118.00" y2="213.80" stroke="#c21f42" stroke-width="0.85"/>
<line x1="121.00" y1="209.00" x2="121.00" y2="213.80" stroke="#c21f42" stroke-width="0.85"/>
<line x1="124.00" y1="209.00" x2="124.00" y2="213.80" stroke="#c21f42" stroke-width="0.85"/>
<line x1="128.00" y1="209.00" x2="128.00" y2="213.80" stroke="#c21f42" stroke-width="0.85"/>
<line x1="135.00" y1="209.00" x2="135.00" y2="213.80" stroke="#c21f42" stroke-width="0.85"/>
<line x1="140.00" y1="209.00" x2="140.00" y2="213.80" stroke="#c21f42" stroke-width="0.85"/>
<line x1="146.00" y1="221.80" x2="146.00" y2="226.60" stroke="#c21f42" stroke-width="0.85"/>
<line x1="152.00" y1="221.80" x2="152.00" y2="226.60" stroke="#c21f42" stroke-width="0.85"/>
<line x1="155.00" y1="221.80" x2="155.00" y2="226.60" stroke="#c21f42" stroke-width="0.85"/>
<rect x="96.8" y="210.2" width="3.4" height="2.8" fill="#c21f42"/>
<path d="M57.10,208.70 H95.00 V212.10 H98.40 V220.20 H139.60" fill="none" stroke="#244f82" stroke-width="1.4" stroke-linejoin="miter"/>
<line x1="60.00" y1="206.30" x2="60.00" y2="211.10" stroke="#244f82" stroke-width="0.85"/>
<line x1="65.00" y1="206.30" x2="65.00" y2="211.10" stroke="#244f82" stroke-width="0.85"/>
<line x1="71.00" y1="206.30" x2="71.00" y2="211.10" stroke="#244f82" stroke-width="0.85"/>
<line x1="77.00" y1="206.30" x2="77.00" y2="211.10" stroke="#244f82" stroke-width="0.85"/>
<line x1="82.00" y1="206.30" x2="82.00" y2="211.10" stroke="#244f82" stroke-width="0.85"/>
<line x1="88.00" y1="206.30" x2="88.00" y2="211.10" stroke="#244f82" stroke-width="0.85"/>
<line x1="93.00" y1="206.30" x2="93.00" y2="211.10" stroke="#244f82" stroke-width="0.85"/>
<line x1="111.00" y1="217.80" x2="111.00" y2="222.60" stroke="#244f82" stroke-width="0.85"/>
<line x1="113.00" y1="217.80" x2="113.00" y2="222.60" stroke="#244f82" stroke-width="0.85"/>
<line x1="126.00" y1="217.80" x2="126.00" y2="222.60" stroke="#244f82" stroke-width="0.85"/>
<line x1="130.00" y1="217.80" x2="130.00" y2="222.60" stroke="#244f82" stroke-width="0.85"/>
<rect x="90.2" y="207.0" width="4.0" height="2.8" fill="#244f82"/>
<text x="182.70" y="196.70" font-size="11.6" text-anchor="start" fill="#111" stroke="#111" stroke-width="0.25" font-weight="bold">E</text>
<line x1="223.80" y1="200.40" x2="223.80" y2="290.25" stroke="#222" stroke-width="1.1"/>
<line x1="223.25" y1="289.70" x2="339.60" y2="289.70" stroke="#222" stroke-width="1.1"/>
<line x1="220.30" y1="285.10" x2="223.80" y2="285.10" stroke="#222" stroke-width="0.9"/>
<text x="217.40" y="287.10" font-size="6.9" text-anchor="end" fill="#262626" stroke="#262626" stroke-width="0.25" font-weight="normal" textLength="3.55" lengthAdjust="spacingAndGlyphs">0</text>
<line x1="220.30" y1="265.38" x2="223.80" y2="265.38" stroke="#222" stroke-width="0.9"/>
<text x="217.40" y="267.38" font-size="6.9" text-anchor="end" fill="#262626" stroke="#262626" stroke-width="0.25" font-weight="normal" textLength="7.1" lengthAdjust="spacingAndGlyphs">25</text>
<line x1="220.30" y1="245.65" x2="223.80" y2="245.65" stroke="#222" stroke-width="0.9"/>
<text x="217.40" y="247.65" font-size="6.9" text-anchor="end" fill="#262626" stroke="#262626" stroke-width="0.25" font-weight="normal" textLength="7.1" lengthAdjust="spacingAndGlyphs">50</text>
<line x1="220.30" y1="225.93" x2="223.80" y2="225.93" stroke="#222" stroke-width="0.9"/>
<text x="217.40" y="227.93" font-size="6.9" text-anchor="end" fill="#262626" stroke="#262626" stroke-width="0.25" font-weight="normal" textLength="7.1" lengthAdjust="spacingAndGlyphs">75</text>
<line x1="220.30" y1="206.20" x2="223.80" y2="206.20" stroke="#222" stroke-width="0.9"/>
<text x="217.40" y="208.20" font-size="6.9" text-anchor="end" fill="#262626" stroke="#262626" stroke-width="0.25" font-weight="normal" textLength="10.649999999999999" lengthAdjust="spacingAndGlyphs">100</text>
<line x1="231.30" y1="289.70" x2="231.30" y2="292.70" stroke="#222" stroke-width="0.9"/>
<text x="231.70" y="301.90" font-size="6.9" text-anchor="middle" fill="#262626" stroke="#262626" stroke-width="0.25" font-weight="normal" textLength="3.55" lengthAdjust="spacingAndGlyphs">0</text>
<line x1="246.16" y1="289.70" x2="246.16" y2="292.70" stroke="#222" stroke-width="0.9"/>
<text x="246.56" y="301.90" font-size="6.9" text-anchor="middle" fill="#262626" stroke="#262626" stroke-width="0.25" font-weight="normal" textLength="7.1" lengthAdjust="spacingAndGlyphs">12</text>
<line x1="261.02" y1="289.70" x2="261.02" y2="292.70" stroke="#222" stroke-width="0.9"/>
<text x="261.42" y="301.90" font-size="6.9" text-anchor="middle" fill="#262626" stroke="#262626" stroke-width="0.25" font-weight="normal" textLength="7.1" lengthAdjust="spacingAndGlyphs">24</text>
<line x1="275.88" y1="289.70" x2="275.88" y2="292.70" stroke="#222" stroke-width="0.9"/>
<text x="276.28" y="301.90" font-size="6.9" text-anchor="middle" fill="#262626" stroke="#262626" stroke-width="0.25" font-weight="normal" textLength="7.1" lengthAdjust="spacingAndGlyphs">36</text>
<line x1="290.74" y1="289.70" x2="290.74" y2="292.70" stroke="#222" stroke-width="0.9"/>
<text x="291.14" y="301.90" font-size="6.9" text-anchor="middle" fill="#262626" stroke="#262626" stroke-width="0.25" font-weight="normal" textLength="7.1" lengthAdjust="spacingAndGlyphs">48</text>
<line x1="305.60" y1="289.70" x2="305.60" y2="292.70" stroke="#222" stroke-width="0.9"/>
<text x="306.00" y="301.90" font-size="6.9" text-anchor="middle" fill="#262626" stroke="#262626" stroke-width="0.25" font-weight="normal" textLength="7.1" lengthAdjust="spacingAndGlyphs">60</text>
<line x1="320.46" y1="289.70" x2="320.46" y2="292.70" stroke="#222" stroke-width="0.9"/>
<text x="320.86" y="301.90" font-size="6.9" text-anchor="middle" fill="#262626" stroke="#262626" stroke-width="0.25" font-weight="normal" textLength="7.1" lengthAdjust="spacingAndGlyphs">72</text>
<line x1="335.32" y1="289.70" x2="335.32" y2="292.70" stroke="#222" stroke-width="0.9"/>
<text x="335.72" y="301.90" font-size="6.9" text-anchor="middle" fill="#262626" stroke="#262626" stroke-width="0.25" font-weight="normal" textLength="7.1" lengthAdjust="spacingAndGlyphs">84</text>
<text transform="translate(200.90,244.95) rotate(-90)" font-size="9.3" text-anchor="middle" fill="#262626" stroke="#262626" stroke-width="0.3" textLength="23.2" lengthAdjust="spacingAndGlyphs">EFS (%)</text>
<text x="281.60" y="314.20" font-size="9.8" text-anchor="middle" fill="#262626" stroke="#262626" stroke-width="0.3" font-weight="normal" textLength="23.6" lengthAdjust="spacingAndGlyphs">Months</text>
<text x="247.30" y="259.00" font-size="7" text-anchor="start" fill="#262626" stroke="#262626" stroke-width="0.25" font-weight="normal" textLength="31.3" lengthAdjust="spacingAndGlyphs">BM biopsy</text>
<text x="295.00" y="259.00" font-size="7" text-anchor="start" fill="#262626" stroke="#262626" stroke-width="0.25" font-weight="normal" textLength="27" lengthAdjust="spacingAndGlyphs">Events/N</text>
<line x1="229.70" y1="265.80" x2="242.60" y2="265.80" stroke="#c8385c" stroke-width="1.7"/>
<line x1="229.70" y1="274.80" x2="242.60" y2="274.80" stroke="#3a6290" stroke-width="1.7"/>
<text x="247.30" y="267.80" font-size="7" text-anchor="start" fill="#262626" stroke="#262626" stroke-width="0.25" font-weight="normal" textLength="27" lengthAdjust="spacingAndGlyphs">Negative</text>
<text x="247.30" y="276.70" font-size="7" text-anchor="start" fill="#262626" stroke="#262626" stroke-width="0.25" font-weight="normal" textLength="23.5" lengthAdjust="spacingAndGlyphs">Positive</text>
<text x="313.00" y="267.80" font-size="7" text-anchor="middle" fill="#262626" stroke="#262626" stroke-width="0.25" font-weight="normal">12/30</text>
<text x="313.00" y="276.70" font-size="7" text-anchor="middle" fill="#262626" stroke="#262626" stroke-width="0.25" font-weight="normal">14/31</text>
<text x="247.30" y="287.00" font-size="7" fill="#262626" stroke="#262626" stroke-width="0.25"><tspan font-style="italic">P</tspan> = .6820</text>
<text x="227.80" y="328.50" font-size="7" text-anchor="start" fill="#262626" stroke="#262626" stroke-width="0.25" font-weight="normal" textLength="30.5" lengthAdjust="spacingAndGlyphs">No. at risk</text>
<text x="215.00" y="338.50" font-size="7" text-anchor="end" fill="#262626" stroke="#262626" stroke-width="0.25" font-weight="normal" textLength="27.8" lengthAdjust="spacingAndGlyphs">Negative</text>
<text x="215.00" y="349.30" font-size="7" text-anchor="end" fill="#262626" stroke="#262626" stroke-width="0.25" font-weight="normal" textLength="23.8" lengthAdjust="spacingAndGlyphs">Positive</text>
<text x="231.20" y="338.50" font-size="7" text-anchor="middle" fill="#b8294c" stroke="#b8294c" stroke-width="0.25" font-weight="normal" textLength="7.1" lengthAdjust="spacingAndGlyphs">30</text>
<text x="246.05" y="338.50" font-size="7" text-anchor="middle" fill="#b8294c" stroke="#b8294c" stroke-width="0.25" font-weight="normal" textLength="7.1" lengthAdjust="spacingAndGlyphs">23</text>
<text x="260.90" y="338.50" font-size="7" text-anchor="middle" fill="#b8294c" stroke="#b8294c" stroke-width="0.25" font-weight="normal" textLength="7.1" lengthAdjust="spacingAndGlyphs">18</text>
<text x="275.75" y="338.50" font-size="7" text-anchor="middle" fill="#b8294c" stroke="#b8294c" stroke-width="0.25" font-weight="normal" textLength="7.1" lengthAdjust="spacingAndGlyphs">12</text>
<text x="290.60" y="338.50" font-size="7" text-anchor="middle" fill="#b8294c" stroke="#b8294c" stroke-width="0.25" font-weight="normal" textLength="3.55" lengthAdjust="spacingAndGlyphs">9</text>
<text x="305.45" y="338.50" font-size="7" text-anchor="middle" fill="#b8294c" stroke="#b8294c" stroke-width="0.25" font-weight="normal" textLength="3.55" lengthAdjust="spacingAndGlyphs">3</text>
<text x="320.30" y="338.50" font-size="7" text-anchor="middle" fill="#b8294c" stroke="#b8294c" stroke-width="0.25" font-weight="normal" textLength="3.55" lengthAdjust="spacingAndGlyphs">1</text>
<text x="335.15" y="338.50" font-size="7" text-anchor="middle" fill="#b8294c" stroke="#b8294c" stroke-width="0.25" font-weight="normal" textLength="3.55" lengthAdjust="spacingAndGlyphs">0</text>
<text x="231.20" y="349.30" font-size="7" text-anchor="middle" fill="#2c5078" stroke="#2c5078" stroke-width="0.25" font-weight="normal" textLength="7.1" lengthAdjust="spacingAndGlyphs">31</text>
<text x="246.05" y="349.30" font-size="7" text-anchor="middle" fill="#2c5078" stroke="#2c5078" stroke-width="0.25" font-weight="normal" textLength="7.1" lengthAdjust="spacingAndGlyphs">25</text>
<text x="260.90" y="349.30" font-size="7" text-anchor="middle" fill="#2c5078" stroke="#2c5078" stroke-width="0.25" font-weight="normal" textLength="7.1" lengthAdjust="spacingAndGlyphs">19</text>
<text x="275.75" y="349.30" font-size="7" text-anchor="middle" fill="#2c5078" stroke="#2c5078" stroke-width="0.25" font-weight="normal" textLength="7.1" lengthAdjust="spacingAndGlyphs">10</text>
<text x="290.60" y="349.30" font-size="7" text-anchor="middle" fill="#2c5078" stroke="#2c5078" stroke-width="0.25" font-weight="normal" textLength="3.55" lengthAdjust="spacingAndGlyphs">7</text>
<text x="305.45" y="349.30" font-size="7" text-anchor="middle" fill="#2c5078" stroke="#2c5078" stroke-width="0.25" font-weight="normal" textLength="3.55" lengthAdjust="spacingAndGlyphs">4</text>
<text x="320.30" y="349.30" font-size="7" text-anchor="middle" fill="#2c5078" stroke="#2c5078" stroke-width="0.25" font-weight="normal" textLength="3.55" lengthAdjust="spacingAndGlyphs">2</text>
<text x="335.15" y="349.30" font-size="7" text-anchor="middle" fill="#2c5078" stroke="#2c5078" stroke-width="0.25" font-weight="normal" textLength="3.55" lengthAdjust="spacingAndGlyphs">0</text>
<path d="M231.90,206.30 H236.00 V210.00 H237.50 V214.00 H239.40 V218.50 H246.50 V219.60 H255.80 V225.00 H260.80 V228.60 H270.00 V232.90 H275.70 V236.50 H294.40 V250.60 H334.20" fill="none" stroke="#c21f42" stroke-width="1.4" stroke-linejoin="miter"/>
<line x1="233.00" y1="203.90" x2="233.00" y2="208.70" stroke="#c21f42" stroke-width="0.85"/>
<line x1="258.00" y1="222.60" x2="258.00" y2="227.40" stroke="#c21f42" stroke-width="0.85"/>
<line x1="265.00" y1="226.20" x2="265.00" y2="231.00" stroke="#c21f42" stroke-width="0.85"/>
<line x1="290.00" y1="234.10" x2="290.00" y2="238.90" stroke="#c21f42" stroke-width="0.85"/>
<line x1="305.00" y1="248.20" x2="305.00" y2="253.00" stroke="#c21f42" stroke-width="0.85"/>
<line x1="312.00" y1="248.20" x2="312.00" y2="253.00" stroke="#c21f42" stroke-width="0.85"/>
<line x1="318.00" y1="248.20" x2="318.00" y2="253.00" stroke="#c21f42" stroke-width="0.85"/>
<line x1="325.00" y1="248.20" x2="325.00" y2="253.00" stroke="#c21f42" stroke-width="0.85"/>
<line x1="332.00" y1="248.20" x2="332.00" y2="253.00" stroke="#c21f42" stroke-width="0.85"/>
<path d="M231.90,206.30 H233.00 V210.00 H234.30 V213.00 H235.40 V216.10 H238.50 V218.50 H246.00 V222.00 H249.00 V226.50 H253.00 V229.00 H256.00 V231.00 H266.00 V234.00 H269.00 V236.50 H272.00 V238.80 H284.60 V242.50 H301.30 V250.60 H334.20" fill="none" stroke="#244f82" stroke-width="1.4" stroke-linejoin="miter"/>
<line x1="250.00" y1="224.10" x2="250.00" y2="228.90" stroke="#244f82" stroke-width="0.85"/>
<line x1="254.00" y1="226.60" x2="254.00" y2="231.40" stroke="#244f82" stroke-width="0.85"/>
<line x1="258.00" y1="228.60" x2="258.00" y2="233.40" stroke="#244f82" stroke-width="0.85"/>
<line x1="263.00" y1="228.60" x2="263.00" y2="233.40" stroke="#244f82" stroke-width="0.85"/>
<line x1="275.00" y1="236.40" x2="275.00" y2="241.20" stroke="#244f82" stroke-width="0.85"/>
<line x1="277.00" y1="236.40" x2="277.00" y2="241.20" stroke="#244f82" stroke-width="0.85"/>
<line x1="285.00" y1="240.10" x2="285.00" y2="244.90" stroke="#244f82" stroke-width="0.85"/>
<line x1="304.00" y1="248.20" x2="304.00" y2="253.00" stroke="#244f82" stroke-width="0.85"/>
<line x1="310.00" y1="248.20" x2="310.00" y2="253.00" stroke="#244f82" stroke-width="0.85"/>
<line x1="320.00" y1="248.20" x2="320.00" y2="253.00" stroke="#244f82" stroke-width="0.85"/>
<line x1="334.00" y1="248.20" x2="334.00" y2="253.00" stroke="#244f82" stroke-width="0.85"/>
<text x="356.00" y="196.70" font-size="11.6" text-anchor="start" fill="#111" stroke="#111" stroke-width="0.25" font-weight="bold">F</text>
<line x1="397.50" y1="200.10" x2="397.50" y2="290.35" stroke="#222" stroke-width="1.1"/>
<line x1="396.95" y1="289.80" x2="512.80" y2="289.80" stroke="#222" stroke-width="1.1"/>
<line x1="394.00" y1="285.00" x2="397.50" y2="285.00" stroke="#222" stroke-width="0.9"/>
<text x="391.10" y="287.00" font-size="6.9" text-anchor="end" fill="#262626" stroke="#262626" stroke-width="0.25" font-weight="normal" textLength="3.55" lengthAdjust="spacingAndGlyphs">0</text>
<line x1="394.00" y1="265.27" x2="397.50" y2="265.27" stroke="#222" stroke-width="0.9"/>
<text x="391.10" y="267.27" font-size="6.9" text-anchor="end" fill="#262626" stroke="#262626" stroke-width="0.25" font-weight="normal" textLength="7.1" lengthAdjust="spacingAndGlyphs">25</text>
<line x1="394.00" y1="245.55" x2="397.50" y2="245.55" stroke="#222" stroke-width="0.9"/>
<text x="391.10" y="247.55" font-size="6.9" text-anchor="end" fill="#262626" stroke="#262626" stroke-width="0.25" font-weight="normal" textLength="7.1" lengthAdjust="spacingAndGlyphs">50</text>
<line x1="394.00" y1="225.82" x2="397.50" y2="225.82" stroke="#222" stroke-width="0.9"/>
<text x="391.10" y="227.82" font-size="6.9" text-anchor="end" fill="#262626" stroke="#262626" stroke-width="0.25" font-weight="normal" textLength="7.1" lengthAdjust="spacingAndGlyphs">75</text>
<line x1="394.00" y1="206.10" x2="397.50" y2="206.10" stroke="#222" stroke-width="0.9"/>
<text x="391.10" y="208.10" font-size="6.9" text-anchor="end" fill="#262626" stroke="#262626" stroke-width="0.25" font-weight="normal" textLength="10.649999999999999" lengthAdjust="spacingAndGlyphs">100</text>
<line x1="404.40" y1="289.80" x2="404.40" y2="292.80" stroke="#222" stroke-width="0.9"/>
<text x="404.80" y="302.00" font-size="6.9" text-anchor="middle" fill="#262626" stroke="#262626" stroke-width="0.25" font-weight="normal" textLength="3.55" lengthAdjust="spacingAndGlyphs">0</text>
<line x1="419.26" y1="289.80" x2="419.26" y2="292.80" stroke="#222" stroke-width="0.9"/>
<text x="419.66" y="302.00" font-size="6.9" text-anchor="middle" fill="#262626" stroke="#262626" stroke-width="0.25" font-weight="normal" textLength="7.1" lengthAdjust="spacingAndGlyphs">12</text>
<line x1="434.12" y1="289.80" x2="434.12" y2="292.80" stroke="#222" stroke-width="0.9"/>
<text x="434.52" y="302.00" font-size="6.9" text-anchor="middle" fill="#262626" stroke="#262626" stroke-width="0.25" font-weight="normal" textLength="7.1" lengthAdjust="spacingAndGlyphs">24</text>
<line x1="448.98" y1="289.80" x2="448.98" y2="292.80" stroke="#222" stroke-width="0.9"/>
<text x="449.38" y="302.00" font-size="6.9" text-anchor="middle" fill="#262626" stroke="#262626" stroke-width="0.25" font-weight="normal" textLength="7.1" lengthAdjust="spacingAndGlyphs">36</text>
<line x1="463.84" y1="289.80" x2="463.84" y2="292.80" stroke="#222" stroke-width="0.9"/>
<text x="464.24" y="302.00" font-size="6.9" text-anchor="middle" fill="#262626" stroke="#262626" stroke-width="0.25" font-weight="normal" textLength="7.1" lengthAdjust="spacingAndGlyphs">48</text>
<line x1="478.70" y1="289.80" x2="478.70" y2="292.80" stroke="#222" stroke-width="0.9"/>
<text x="479.10" y="302.00" font-size="6.9" text-anchor="middle" fill="#262626" stroke="#262626" stroke-width="0.25" font-weight="normal" textLength="7.1" lengthAdjust="spacingAndGlyphs">60</text>
<line x1="493.56" y1="289.80" x2="493.56" y2="292.80" stroke="#222" stroke-width="0.9"/>
<text x="493.96" y="302.00" font-size="6.9" text-anchor="middle" fill="#262626" stroke="#262626" stroke-width="0.25" font-weight="normal" textLength="7.1" lengthAdjust="spacingAndGlyphs">72</text>
<line x1="508.42" y1="289.80" x2="508.42" y2="292.80" stroke="#222" stroke-width="0.9"/>
<text x="508.82" y="302.00" font-size="6.9" text-anchor="middle" fill="#262626" stroke="#262626" stroke-width="0.25" font-weight="normal" textLength="7.1" lengthAdjust="spacingAndGlyphs">84</text>
<text transform="translate(374.60,244.85) rotate(-90)" font-size="9.3" text-anchor="middle" fill="#262626" stroke="#262626" stroke-width="0.3" textLength="20.8" lengthAdjust="spacingAndGlyphs">OS (%)</text>
<text x="455.50" y="314.20" font-size="9.8" text-anchor="middle" fill="#262626" stroke="#262626" stroke-width="0.3" font-weight="normal" textLength="23.6" lengthAdjust="spacingAndGlyphs">Months</text>
<text x="420.90" y="257.60" font-size="7" text-anchor="start" fill="#262626" stroke="#262626" stroke-width="0.25" font-weight="normal" textLength="31.3" lengthAdjust="spacingAndGlyphs">BM biopsy</text>
<text x="468.40" y="257.60" font-size="7" text-anchor="start" fill="#262626" stroke="#262626" stroke-width="0.25" font-weight="normal" textLength="27" lengthAdjust="spacingAndGlyphs">Events/N</text>
<line x1="403.10" y1="264.50" x2="416.20" y2="264.50" stroke="#c8385c" stroke-width="1.7"/>
<line x1="403.10" y1="273.60" x2="416.20" y2="273.60" stroke="#3a6290" stroke-width="1.7"/>
<text x="420.90" y="266.50" font-size="7" text-anchor="start" fill="#262626" stroke="#262626" stroke-width="0.25" font-weight="normal" textLength="27" lengthAdjust="spacingAndGlyphs">Negative</text>
<text x="420.90" y="275.50" font-size="7" text-anchor="start" fill="#262626" stroke="#262626" stroke-width="0.25" font-weight="normal" textLength="23.5" lengthAdjust="spacingAndGlyphs">Positive</text>
<text x="486.60" y="266.50" font-size="7" text-anchor="middle" fill="#262626" stroke="#262626" stroke-width="0.25" font-weight="normal">4/30</text>
<text x="486.60" y="275.50" font-size="7" text-anchor="middle" fill="#262626" stroke="#262626" stroke-width="0.25" font-weight="normal">3/31</text>
<text x="420.90" y="286.10" font-size="7" fill="#262626" stroke="#262626" stroke-width="0.25"><tspan font-style="italic">P</tspan> = .5331</text>
<text x="401.00" y="328.50" font-size="7" text-anchor="start" fill="#262626" stroke="#262626" stroke-width="0.25" font-weight="normal" textLength="30.5" lengthAdjust="spacingAndGlyphs">No. at risk</text>
<text x="389.20" y="338.50" font-size="7" text-anchor="end" fill="#262626" stroke="#262626" stroke-width="0.25" font-weight="normal" textLength="27.8" lengthAdjust="spacingAndGlyphs">Negative</text>
<text x="389.20" y="349.30" font-size="7" text-anchor="end" fill="#262626" stroke="#262626" stroke-width="0.25" font-weight="normal" textLength="23.8" lengthAdjust="spacingAndGlyphs">Positive</text>
<text x="405.60" y="338.50" font-size="7" text-anchor="middle" fill="#b8294c" stroke="#b8294c" stroke-width="0.25" font-weight="normal" textLength="7.1" lengthAdjust="spacingAndGlyphs">30</text>
<text x="420.40" y="338.50" font-size="7" text-anchor="middle" fill="#b8294c" stroke="#b8294c" stroke-width="0.25" font-weight="normal" textLength="7.1" lengthAdjust="spacingAndGlyphs">28</text>
<text x="435.20" y="338.50" font-size="7" text-anchor="middle" fill="#b8294c" stroke="#b8294c" stroke-width="0.25" font-weight="normal" textLength="7.1" lengthAdjust="spacingAndGlyphs">24</text>
<text x="450.00" y="338.50" font-size="7" text-anchor="middle" fill="#b8294c" stroke="#b8294c" stroke-width="0.25" font-weight="normal" textLength="7.1" lengthAdjust="spacingAndGlyphs">13</text>
<text x="464.80" y="338.50" font-size="7" text-anchor="middle" fill="#b8294c" stroke="#b8294c" stroke-width="0.25" font-weight="normal" textLength="7.1" lengthAdjust="spacingAndGlyphs">10</text>
<text x="479.60" y="338.50" font-size="7" text-anchor="middle" fill="#b8294c" stroke="#b8294c" stroke-width="0.25" font-weight="normal" textLength="3.55" lengthAdjust="spacingAndGlyphs">4</text>
<text x="494.40" y="338.50" font-size="7" text-anchor="middle" fill="#b8294c" stroke="#b8294c" stroke-width="0.25" font-weight="normal" textLength="3.55" lengthAdjust="spacingAndGlyphs">1</text>
<text x="509.20" y="338.50" font-size="7" text-anchor="middle" fill="#b8294c" stroke="#b8294c" stroke-width="0.25" font-weight="normal" textLength="3.55" lengthAdjust="spacingAndGlyphs">0</text>
<text x="405.60" y="349.30" font-size="7" text-anchor="middle" fill="#2c5078" stroke="#2c5078" stroke-width="0.25" font-weight="normal" textLength="7.1" lengthAdjust="spacingAndGlyphs">31</text>
<text x="420.40" y="349.30" font-size="7" text-anchor="middle" fill="#2c5078" stroke="#2c5078" stroke-width="0.25" font-weight="normal" textLength="7.1" lengthAdjust="spacingAndGlyphs">31</text>
<text x="435.20" y="349.30" font-size="7" text-anchor="middle" fill="#2c5078" stroke="#2c5078" stroke-width="0.25" font-weight="normal" textLength="7.1" lengthAdjust="spacingAndGlyphs">27</text>
<text x="450.00" y="349.30" font-size="7" text-anchor="middle" fill="#2c5078" stroke="#2c5078" stroke-width="0.25" font-weight="normal" textLength="7.1" lengthAdjust="spacingAndGlyphs">15</text>
<text x="464.80" y="349.30" font-size="7" text-anchor="middle" fill="#2c5078" stroke="#2c5078" stroke-width="0.25" font-weight="normal" textLength="7.1" lengthAdjust="spacingAndGlyphs">12</text>
<text x="479.60" y="349.30" font-size="7" text-anchor="middle" fill="#2c5078" stroke="#2c5078" stroke-width="0.25" font-weight="normal" textLength="3.55" lengthAdjust="spacingAndGlyphs">6</text>
<text x="494.40" y="349.30" font-size="7" text-anchor="middle" fill="#2c5078" stroke="#2c5078" stroke-width="0.25" font-weight="normal" textLength="3.55" lengthAdjust="spacingAndGlyphs">2</text>
<text x="509.20" y="349.30" font-size="7" text-anchor="middle" fill="#2c5078" stroke="#2c5078" stroke-width="0.25" font-weight="normal" textLength="3.55" lengthAdjust="spacingAndGlyphs">0</text>
<path d="M404.60,206.30 H420.80 V208.70 H442.50 V213.30 H448.40 V217.60 H468.80 V226.20 H505.50" fill="none" stroke="#c21f42" stroke-width="1.4" stroke-linejoin="miter"/>
<line x1="426.00" y1="206.30" x2="426.00" y2="211.10" stroke="#c21f42" stroke-width="0.85"/>
<line x1="431.00" y1="206.30" x2="431.00" y2="211.10" stroke="#c21f42" stroke-width="0.85"/>
<line x1="455.00" y1="215.20" x2="455.00" y2="220.00" stroke="#c21f42" stroke-width="0.85"/>
<line x1="462.00" y1="215.20" x2="462.00" y2="220.00" stroke="#c21f42" stroke-width="0.85"/>
<line x1="472.00" y1="223.80" x2="472.00" y2="228.60" stroke="#c21f42" stroke-width="0.85"/>
<line x1="477.00" y1="223.80" x2="477.00" y2="228.60" stroke="#c21f42" stroke-width="0.85"/>
<line x1="480.00" y1="223.80" x2="480.00" y2="228.60" stroke="#c21f42" stroke-width="0.85"/>
<line x1="493.00" y1="223.80" x2="493.00" y2="228.60" stroke="#c21f42" stroke-width="0.85"/>
<line x1="503.00" y1="223.80" x2="503.00" y2="228.60" stroke="#c21f42" stroke-width="0.85"/>
<path d="M404.60,206.30 H430.60 V208.70 H443.00 V213.00 H448.80 V215.30 H507.80" fill="none" stroke="#244f82" stroke-width="1.4" stroke-linejoin="miter"/>
<line x1="407.00" y1="203.90" x2="407.00" y2="208.70" stroke="#244f82" stroke-width="0.85"/>
<line x1="415.00" y1="203.90" x2="415.00" y2="208.70" stroke="#244f82" stroke-width="0.85"/>
<line x1="430.00" y1="203.90" x2="430.00" y2="208.70" stroke="#244f82" stroke-width="0.85"/>
<line x1="434.00" y1="206.30" x2="434.00" y2="211.10" stroke="#244f82" stroke-width="0.85"/>
<line x1="436.00" y1="206.30" x2="436.00" y2="211.10" stroke="#244f82" stroke-width="0.85"/>
<line x1="440.00" y1="206.30" x2="440.00" y2="211.10" stroke="#244f82" stroke-width="0.85"/>
<line x1="457.00" y1="212.90" x2="457.00" y2="217.70" stroke="#244f82" stroke-width="0.85"/>
<line x1="461.00" y1="212.90" x2="461.00" y2="217.70" stroke="#244f82" stroke-width="0.85"/>
<line x1="463.00" y1="212.90" x2="463.00" y2="217.70" stroke="#244f82" stroke-width="0.85"/>
<line x1="470.00" y1="212.90" x2="470.00" y2="217.70" stroke="#244f82" stroke-width="0.85"/>
<line x1="477.00" y1="212.90" x2="477.00" y2="217.70" stroke="#244f82" stroke-width="0.85"/>
<line x1="483.00" y1="212.90" x2="483.00" y2="217.70" stroke="#244f82" stroke-width="0.85"/>
<line x1="492.00" y1="212.90" x2="492.00" y2="217.70" stroke="#244f82" stroke-width="0.85"/>
<line x1="496.00" y1="212.90" x2="496.00" y2="217.70" stroke="#244f82" stroke-width="0.85"/>
<line x1="506.00" y1="212.90" x2="506.00" y2="217.70" stroke="#244f82" stroke-width="0.85"/>
<text x="93.50" y="375.90" font-size="11.6" text-anchor="start" fill="#111" stroke="#111" stroke-width="0.25" font-weight="bold">G</text>
<line x1="136.70" y1="382.90" x2="136.70" y2="472.85" stroke="#222" stroke-width="1.1"/>
<line x1="136.15" y1="472.30" x2="252.00" y2="472.30" stroke="#222" stroke-width="1.1"/>
<line x1="133.20" y1="467.50" x2="136.70" y2="467.50" stroke="#222" stroke-width="0.9"/>
<text x="130.30" y="469.50" font-size="6.9" text-anchor="end" fill="#262626" stroke="#262626" stroke-width="0.25" font-weight="normal" textLength="3.55" lengthAdjust="spacingAndGlyphs">0</text>
<line x1="133.20" y1="447.80" x2="136.70" y2="447.80" stroke="#222" stroke-width="0.9"/>
<text x="130.30" y="449.80" font-size="6.9" text-anchor="end" fill="#262626" stroke="#262626" stroke-width="0.25" font-weight="normal" textLength="7.1" lengthAdjust="spacingAndGlyphs">25</text>
<line x1="133.20" y1="428.10" x2="136.70" y2="428.10" stroke="#222" stroke-width="0.9"/>
<text x="130.30" y="430.10" font-size="6.9" text-anchor="end" fill="#262626" stroke="#262626" stroke-width="0.25" font-weight="normal" textLength="7.1" lengthAdjust="spacingAndGlyphs">50</text>
<line x1="133.20" y1="408.40" x2="136.70" y2="408.40" stroke="#222" stroke-width="0.9"/>
<text x="130.30" y="410.40" font-size="6.9" text-anchor="end" fill="#262626" stroke="#262626" stroke-width="0.25" font-weight="normal" textLength="7.1" lengthAdjust="spacingAndGlyphs">75</text>
<line x1="133.20" y1="388.70" x2="136.70" y2="388.70" stroke="#222" stroke-width="0.9"/>
<text x="130.30" y="390.70" font-size="6.9" text-anchor="end" fill="#262626" stroke="#262626" stroke-width="0.25" font-weight="normal" textLength="10.649999999999999" lengthAdjust="spacingAndGlyphs">100</text>
<line x1="143.60" y1="472.30" x2="143.60" y2="475.30" stroke="#222" stroke-width="0.9"/>
<text x="144.00" y="484.50" font-size="6.9" text-anchor="middle" fill="#262626" stroke="#262626" stroke-width="0.25" font-weight="normal" textLength="3.55" lengthAdjust="spacingAndGlyphs">0</text>
<line x1="158.46" y1="472.30" x2="158.46" y2="475.30" stroke="#222" stroke-width="0.9"/>
<text x="158.86" y="484.50" font-size="6.9" text-anchor="middle" fill="#262626" stroke="#262626" stroke-width="0.25" font-weight="normal" textLength="7.1" lengthAdjust="spacingAndGlyphs">12</text>
<line x1="173.32" y1="472.30" x2="173.32" y2="475.30" stroke="#222" stroke-width="0.9"/>
<text x="173.72" y="484.50" font-size="6.9" text-anchor="middle" fill="#262626" stroke="#262626" stroke-width="0.25" font-weight="normal" textLength="7.1" lengthAdjust="spacingAndGlyphs">24</text>
<line x1="188.18" y1="472.30" x2="188.18" y2="475.30" stroke="#222" stroke-width="0.9"/>
<text x="188.58" y="484.50" font-size="6.9" text-anchor="middle" fill="#262626" stroke="#262626" stroke-width="0.25" font-weight="normal" textLength="7.1" lengthAdjust="spacingAndGlyphs">36</text>
<line x1="203.04" y1="472.30" x2="203.04" y2="475.30" stroke="#222" stroke-width="0.9"/>
<text x="203.44" y="484.50" font-size="6.9" text-anchor="middle" fill="#262626" stroke="#262626" stroke-width="0.25" font-weight="normal" textLength="7.1" lengthAdjust="spacingAndGlyphs">48</text>
<line x1="217.90" y1="472.30" x2="217.90" y2="475.30" stroke="#222" stroke-width="0.9"/>
<text x="218.30" y="484.50" font-size="6.9" text-anchor="middle" fill="#262626" stroke="#262626" stroke-width="0.25" font-weight="normal" textLength="7.1" lengthAdjust="spacingAndGlyphs">60</text>
<line x1="232.76" y1="472.30" x2="232.76" y2="475.30" stroke="#222" stroke-width="0.9"/>
<text x="233.16" y="484.50" font-size="6.9" text-anchor="middle" fill="#262626" stroke="#262626" stroke-width="0.25" font-weight="normal" textLength="7.1" lengthAdjust="spacingAndGlyphs">72</text>
<line x1="247.62" y1="472.30" x2="247.62" y2="475.30" stroke="#222" stroke-width="0.9"/>
<text x="248.02" y="484.50" font-size="6.9" text-anchor="middle" fill="#262626" stroke="#262626" stroke-width="0.25" font-weight="normal" textLength="7.1" lengthAdjust="spacingAndGlyphs">84</text>
<text transform="translate(113.80,427.40) rotate(-90)" font-size="9.3" text-anchor="middle" fill="#262626" stroke="#262626" stroke-width="0.3" textLength="23.2" lengthAdjust="spacingAndGlyphs">EFS (%)</text>
<text x="194.50" y="496.40" font-size="9.8" text-anchor="middle" fill="#262626" stroke="#262626" stroke-width="0.3" font-weight="normal" textLength="23.6" lengthAdjust="spacingAndGlyphs">Months</text>
<text x="159.90" y="440.60" font-size="7" text-anchor="start" fill="#262626" stroke="#262626" stroke-width="0.25" font-weight="normal" textLength="31.3" lengthAdjust="spacingAndGlyphs">BM biopsy</text>
<text x="207.70" y="440.60" font-size="7" text-anchor="start" fill="#262626" stroke="#262626" stroke-width="0.25" font-weight="normal" textLength="27" lengthAdjust="spacingAndGlyphs">Events/N</text>
<line x1="142.60" y1="446.90" x2="155.80" y2="446.90" stroke="#c8385c" stroke-width="1.7"/>
<line x1="142.60" y1="455.90" x2="155.80" y2="455.90" stroke="#3a6290" stroke-width="1.7"/>
<text x="159.90" y="448.90" font-size="7" text-anchor="start" fill="#262626" stroke="#262626" stroke-width="0.25" font-weight="normal" textLength="27" lengthAdjust="spacingAndGlyphs">Negative</text>
<text x="159.90" y="457.80" font-size="7" text-anchor="start" fill="#262626" stroke="#262626" stroke-width="0.25" font-weight="normal" textLength="23.5" lengthAdjust="spacingAndGlyphs">Positive</text>
<text x="222.80" y="448.90" font-size="7" text-anchor="middle" fill="#262626" stroke="#262626" stroke-width="0.25" font-weight="normal">1/7</text>
<text x="225.90" y="457.80" font-size="7" text-anchor="middle" fill="#262626" stroke="#262626" stroke-width="0.25" font-weight="normal">8/35</text>
<text x="159.90" y="467.70" font-size="7" fill="#262626" stroke="#262626" stroke-width="0.25"><tspan font-style="italic">P</tspan> = .7521</text>
<text x="139.90" y="510.30" font-size="7" text-anchor="start" fill="#262626" stroke="#262626" stroke-width="0.25" font-weight="normal" textLength="30.5" lengthAdjust="spacingAndGlyphs">No. at risk</text>
<text x="128.10" y="521.40" font-size="7" text-anchor="end" fill="#262626" stroke="#262626" stroke-width="0.25" font-weight="normal" textLength="27.8" lengthAdjust="spacingAndGlyphs">Negative</text>
<text x="128.10" y="531.20" font-size="7" text-anchor="end" fill="#262626" stroke="#262626" stroke-width="0.25" font-weight="normal" textLength="23.8" lengthAdjust="spacingAndGlyphs">Positive</text>
<text x="143.70" y="521.40" font-size="7" text-anchor="middle" fill="#b8294c" stroke="#b8294c" stroke-width="0.25" font-weight="normal" textLength="3.55" lengthAdjust="spacingAndGlyphs">7</text>
<text x="158.58" y="521.40" font-size="7" text-anchor="middle" fill="#b8294c" stroke="#b8294c" stroke-width="0.25" font-weight="normal" textLength="3.55" lengthAdjust="spacingAndGlyphs">6</text>
<text x="173.46" y="521.40" font-size="7" text-anchor="middle" fill="#b8294c" stroke="#b8294c" stroke-width="0.25" font-weight="normal" textLength="3.55" lengthAdjust="spacingAndGlyphs">5</text>
<text x="188.34" y="521.40" font-size="7" text-anchor="middle" fill="#b8294c" stroke="#b8294c" stroke-width="0.25" font-weight="normal" textLength="3.55" lengthAdjust="spacingAndGlyphs">2</text>
<text x="203.22" y="521.40" font-size="7" text-anchor="middle" fill="#b8294c" stroke="#b8294c" stroke-width="0.25" font-weight="normal" textLength="3.55" lengthAdjust="spacingAndGlyphs">1</text>
<text x="218.10" y="521.40" font-size="7" text-anchor="middle" fill="#b8294c" stroke="#b8294c" stroke-width="0.25" font-weight="normal" textLength="3.55" lengthAdjust="spacingAndGlyphs">1</text>
<text x="232.98" y="521.40" font-size="7" text-anchor="middle" fill="#b8294c" stroke="#b8294c" stroke-width="0.25" font-weight="normal" textLength="3.55" lengthAdjust="spacingAndGlyphs">1</text>
<text x="247.86" y="521.40" font-size="7" text-anchor="middle" fill="#b8294c" stroke="#b8294c" stroke-width="0.25" font-weight="normal" textLength="3.55" lengthAdjust="spacingAndGlyphs">0</text>
<text x="143.70" y="531.20" font-size="7" text-anchor="middle" fill="#2c5078" stroke="#2c5078" stroke-width="0.25" font-weight="normal" textLength="7.1" lengthAdjust="spacingAndGlyphs">35</text>
<text x="158.58" y="531.20" font-size="7" text-anchor="middle" fill="#2c5078" stroke="#2c5078" stroke-width="0.25" font-weight="normal" textLength="7.1" lengthAdjust="spacingAndGlyphs">31</text>
<text x="173.46" y="531.20" font-size="7" text-anchor="middle" fill="#2c5078" stroke="#2c5078" stroke-width="0.25" font-weight="normal" textLength="7.1" lengthAdjust="spacingAndGlyphs">27</text>
<text x="188.34" y="531.20" font-size="7" text-anchor="middle" fill="#2c5078" stroke="#2c5078" stroke-width="0.25" font-weight="normal" textLength="7.1" lengthAdjust="spacingAndGlyphs">16</text>
<text x="203.22" y="531.20" font-size="7" text-anchor="middle" fill="#2c5078" stroke="#2c5078" stroke-width="0.25" font-weight="normal" textLength="3.55" lengthAdjust="spacingAndGlyphs">8</text>
<text x="218.10" y="531.20" font-size="7" text-anchor="middle" fill="#2c5078" stroke="#2c5078" stroke-width="0.25" font-weight="normal" textLength="3.55" lengthAdjust="spacingAndGlyphs">3</text>
<text x="232.98" y="531.20" font-size="7" text-anchor="middle" fill="#2c5078" stroke="#2c5078" stroke-width="0.25" font-weight="normal" textLength="3.55" lengthAdjust="spacingAndGlyphs">1</text>
<text x="247.86" y="531.20" font-size="7" text-anchor="middle" fill="#2c5078" stroke="#2c5078" stroke-width="0.25" font-weight="normal" textLength="3.55" lengthAdjust="spacingAndGlyphs">0</text>
<path d="M144.60,388.70 H152.50 V399.80 H241.10" fill="none" stroke="#c21f42" stroke-width="1.4" stroke-linejoin="miter"/>
<line x1="201.00" y1="397.40" x2="201.00" y2="402.20" stroke="#c21f42" stroke-width="0.85"/>
<line x1="241.00" y1="397.40" x2="241.00" y2="402.20" stroke="#c21f42" stroke-width="0.85"/>
<path d="M144.60,388.70 H148.70 V391.00 H150.50 V393.50 H153.00 V395.50 H157.30 V396.80 H166.50 V399.80 H178.60 V402.50 H199.60 V407.70 H201.90 V411.70 H235.40" fill="none" stroke="#244f82" stroke-width="1.4" stroke-linejoin="miter"/>
<line x1="164.00" y1="394.40" x2="164.00" y2="399.20" stroke="#244f82" stroke-width="0.85"/>
<line x1="171.00" y1="397.40" x2="171.00" y2="402.20" stroke="#244f82" stroke-width="0.85"/>
<line x1="173.00" y1="397.40" x2="173.00" y2="402.20" stroke="#244f82" stroke-width="0.85"/>
<line x1="177.00" y1="397.40" x2="177.00" y2="402.20" stroke="#244f82" stroke-width="0.85"/>
<line x1="182.00" y1="400.10" x2="182.00" y2="404.90" stroke="#244f82" stroke-width="0.85"/>
<line x1="185.00" y1="400.10" x2="185.00" y2="404.90" stroke="#244f82" stroke-width="0.85"/>
<line x1="188.00" y1="400.10" x2="188.00" y2="404.90" stroke="#244f82" stroke-width="0.85"/>
<line x1="195.00" y1="400.10" x2="195.00" y2="404.90" stroke="#244f82" stroke-width="0.85"/>
<line x1="203.00" y1="409.30" x2="203.00" y2="414.10" stroke="#244f82" stroke-width="0.85"/>
<line x1="208.00" y1="409.30" x2="208.00" y2="414.10" stroke="#244f82" stroke-width="0.85"/>
<line x1="215.00" y1="409.30" x2="215.00" y2="414.10" stroke="#244f82" stroke-width="0.85"/>
<line x1="226.00" y1="409.30" x2="226.00" y2="414.10" stroke="#244f82" stroke-width="0.85"/>
<line x1="230.00" y1="409.30" x2="230.00" y2="414.10" stroke="#244f82" stroke-width="0.85"/>
<line x1="235.00" y1="409.30" x2="235.00" y2="414.10" stroke="#244f82" stroke-width="0.85"/>
<text x="268.80" y="376.10" font-size="11.6" text-anchor="start" fill="#111" stroke="#111" stroke-width="0.25" font-weight="bold">H</text>
<line x1="310.70" y1="383.00" x2="310.70" y2="472.85" stroke="#222" stroke-width="1.1"/>
<line x1="310.15" y1="472.30" x2="426.50" y2="472.30" stroke="#222" stroke-width="1.1"/>
<line x1="307.20" y1="467.50" x2="310.70" y2="467.50" stroke="#222" stroke-width="0.9"/>
<text x="304.30" y="469.50" font-size="6.9" text-anchor="end" fill="#262626" stroke="#262626" stroke-width="0.25" font-weight="normal" textLength="3.55" lengthAdjust="spacingAndGlyphs">0</text>
<line x1="307.20" y1="447.70" x2="310.70" y2="447.70" stroke="#222" stroke-width="0.9"/>
<text x="304.30" y="449.70" font-size="6.9" text-anchor="end" fill="#262626" stroke="#262626" stroke-width="0.25" font-weight="normal" textLength="7.1" lengthAdjust="spacingAndGlyphs">25</text>
<line x1="307.20" y1="427.90" x2="310.70" y2="427.90" stroke="#222" stroke-width="0.9"/>
<text x="304.30" y="429.90" font-size="6.9" text-anchor="end" fill="#262626" stroke="#262626" stroke-width="0.25" font-weight="normal" textLength="7.1" lengthAdjust="spacingAndGlyphs">50</text>
<line x1="307.20" y1="408.10" x2="310.70" y2="408.10" stroke="#222" stroke-width="0.9"/>
<text x="304.30" y="410.10" font-size="6.9" text-anchor="end" fill="#262626" stroke="#262626" stroke-width="0.25" font-weight="normal" textLength="7.1" lengthAdjust="spacingAndGlyphs">75</text>
<line x1="307.20" y1="388.30" x2="310.70" y2="388.30" stroke="#222" stroke-width="0.9"/>
<text x="304.30" y="390.30" font-size="6.9" text-anchor="end" fill="#262626" stroke="#262626" stroke-width="0.25" font-weight="normal" textLength="10.649999999999999" lengthAdjust="spacingAndGlyphs">100</text>
<line x1="318.10" y1="472.30" x2="318.10" y2="475.30" stroke="#222" stroke-width="0.9"/>
<text x="318.50" y="484.50" font-size="6.9" text-anchor="middle" fill="#262626" stroke="#262626" stroke-width="0.25" font-weight="normal" textLength="3.55" lengthAdjust="spacingAndGlyphs">0</text>
<line x1="332.96" y1="472.30" x2="332.96" y2="475.30" stroke="#222" stroke-width="0.9"/>
<text x="333.36" y="484.50" font-size="6.9" text-anchor="middle" fill="#262626" stroke="#262626" stroke-width="0.25" font-weight="normal" textLength="7.1" lengthAdjust="spacingAndGlyphs">12</text>
<line x1="347.82" y1="472.30" x2="347.82" y2="475.30" stroke="#222" stroke-width="0.9"/>
<text x="348.22" y="484.50" font-size="6.9" text-anchor="middle" fill="#262626" stroke="#262626" stroke-width="0.25" font-weight="normal" textLength="7.1" lengthAdjust="spacingAndGlyphs">24</text>
<line x1="362.68" y1="472.30" x2="362.68" y2="475.30" stroke="#222" stroke-width="0.9"/>
<text x="363.08" y="484.50" font-size="6.9" text-anchor="middle" fill="#262626" stroke="#262626" stroke-width="0.25" font-weight="normal" textLength="7.1" lengthAdjust="spacingAndGlyphs">36</text>
<line x1="377.54" y1="472.30" x2="377.54" y2="475.30" stroke="#222" stroke-width="0.9"/>
<text x="377.94" y="484.50" font-size="6.9" text-anchor="middle" fill="#262626" stroke="#262626" stroke-width="0.25" font-weight="normal" textLength="7.1" lengthAdjust="spacingAndGlyphs">48</text>
<line x1="392.40" y1="472.30" x2="392.40" y2="475.30" stroke="#222" stroke-width="0.9"/>
<text x="392.80" y="484.50" font-size="6.9" text-anchor="middle" fill="#262626" stroke="#262626" stroke-width="0.25" font-weight="normal" textLength="7.1" lengthAdjust="spacingAndGlyphs">60</text>
<line x1="407.26" y1="472.30" x2="407.26" y2="475.30" stroke="#222" stroke-width="0.9"/>
<text x="407.66" y="484.50" font-size="6.9" text-anchor="middle" fill="#262626" stroke="#262626" stroke-width="0.25" font-weight="normal" textLength="7.1" lengthAdjust="spacingAndGlyphs">72</text>
<line x1="422.12" y1="472.30" x2="422.12" y2="475.30" stroke="#222" stroke-width="0.9"/>
<text x="422.52" y="484.50" font-size="6.9" text-anchor="middle" fill="#262626" stroke="#262626" stroke-width="0.25" font-weight="normal" textLength="7.1" lengthAdjust="spacingAndGlyphs">84</text>
<text transform="translate(287.80,427.20) rotate(-90)" font-size="9.3" text-anchor="middle" fill="#262626" stroke="#262626" stroke-width="0.3" textLength="20.8" lengthAdjust="spacingAndGlyphs">OS (%)</text>
<text x="369.20" y="496.40" font-size="9.8" text-anchor="middle" fill="#262626" stroke="#262626" stroke-width="0.3" font-weight="normal" textLength="23.6" lengthAdjust="spacingAndGlyphs">Months</text>
<text x="333.90" y="440.60" font-size="7" text-anchor="start" fill="#262626" stroke="#262626" stroke-width="0.25" font-weight="normal" textLength="31.3" lengthAdjust="spacingAndGlyphs">BM biopsy</text>
<text x="381.90" y="440.60" font-size="7" text-anchor="start" fill="#262626" stroke="#262626" stroke-width="0.25" font-weight="normal" textLength="27" lengthAdjust="spacingAndGlyphs">Events/N</text>
<line x1="316.50" y1="446.90" x2="329.20" y2="446.90" stroke="#c8385c" stroke-width="1.7"/>
<line x1="316.50" y1="455.90" x2="329.20" y2="455.90" stroke="#3a6290" stroke-width="1.7"/>
<text x="333.90" y="448.90" font-size="7" text-anchor="start" fill="#262626" stroke="#262626" stroke-width="0.25" font-weight="normal" textLength="27" lengthAdjust="spacingAndGlyphs">Negative</text>
<text x="333.90" y="457.80" font-size="7" text-anchor="start" fill="#262626" stroke="#262626" stroke-width="0.25" font-weight="normal" textLength="23.5" lengthAdjust="spacingAndGlyphs">Positive</text>
<text x="397.80" y="448.90" font-size="7" text-anchor="middle" fill="#262626" stroke="#262626" stroke-width="0.25" font-weight="normal">1/7</text>
<text x="400.20" y="457.80" font-size="7" text-anchor="middle" fill="#262626" stroke="#262626" stroke-width="0.25" font-weight="normal">1/35</text>
<text x="333.90" y="467.70" font-size="7" fill="#262626" stroke="#262626" stroke-width="0.25"><tspan font-style="italic">P</tspan> = .2109</text>
<text x="313.90" y="510.30" font-size="7" text-anchor="start" fill="#262626" stroke="#262626" stroke-width="0.25" font-weight="normal" textLength="30.5" lengthAdjust="spacingAndGlyphs">No. at risk</text>
<text x="302.40" y="521.40" font-size="7" text-anchor="end" fill="#262626" stroke="#262626" stroke-width="0.25" font-weight="normal" textLength="27.8" lengthAdjust="spacingAndGlyphs">Negative</text>
<text x="302.40" y="531.20" font-size="7" text-anchor="end" fill="#262626" stroke="#262626" stroke-width="0.25" font-weight="normal" textLength="23.8" lengthAdjust="spacingAndGlyphs">Positive</text>
<text x="317.60" y="521.40" font-size="7" text-anchor="middle" fill="#b8294c" stroke="#b8294c" stroke-width="0.25" font-weight="normal" textLength="3.55" lengthAdjust="spacingAndGlyphs">7</text>
<text x="332.54" y="521.40" font-size="7" text-anchor="middle" fill="#b8294c" stroke="#b8294c" stroke-width="0.25" font-weight="normal" textLength="3.55" lengthAdjust="spacingAndGlyphs">7</text>
<text x="347.48" y="521.40" font-size="7" text-anchor="middle" fill="#b8294c" stroke="#b8294c" stroke-width="0.25" font-weight="normal" textLength="3.55" lengthAdjust="spacingAndGlyphs">5</text>
<text x="362.42" y="521.40" font-size="7" text-anchor="middle" fill="#b8294c" stroke="#b8294c" stroke-width="0.25" font-weight="normal" textLength="3.55" lengthAdjust="spacingAndGlyphs">2</text>
<text x="377.36" y="521.40" font-size="7" text-anchor="middle" fill="#b8294c" stroke="#b8294c" stroke-width="0.25" font-weight="normal" textLength="3.55" lengthAdjust="spacingAndGlyphs">1</text>
<text x="392.30" y="521.40" font-size="7" text-anchor="middle" fill="#b8294c" stroke="#b8294c" stroke-width="0.25" font-weight="normal" textLength="3.55" lengthAdjust="spacingAndGlyphs">1</text>
<text x="407.24" y="521.40" font-size="7" text-anchor="middle" fill="#b8294c" stroke="#b8294c" stroke-width="0.25" font-weight="normal" textLength="3.55" lengthAdjust="spacingAndGlyphs">1</text>
<text x="422.18" y="521.40" font-size="7" text-anchor="middle" fill="#b8294c" stroke="#b8294c" stroke-width="0.25" font-weight="normal" textLength="3.55" lengthAdjust="spacingAndGlyphs">0</text>
<text x="317.60" y="531.20" font-size="7" text-anchor="middle" fill="#2c5078" stroke="#2c5078" stroke-width="0.25" font-weight="normal" textLength="7.1" lengthAdjust="spacingAndGlyphs">35</text>
<text x="332.54" y="531.20" font-size="7" text-anchor="middle" fill="#2c5078" stroke="#2c5078" stroke-width="0.25" font-weight="normal" textLength="7.1" lengthAdjust="spacingAndGlyphs">34</text>
<text x="347.48" y="531.20" font-size="7" text-anchor="middle" fill="#2c5078" stroke="#2c5078" stroke-width="0.25" font-weight="normal" textLength="7.1" lengthAdjust="spacingAndGlyphs">31</text>
<text x="362.42" y="531.20" font-size="7" text-anchor="middle" fill="#2c5078" stroke="#2c5078" stroke-width="0.25" font-weight="normal" textLength="7.1" lengthAdjust="spacingAndGlyphs">18</text>
<text x="377.36" y="531.20" font-size="7" text-anchor="middle" fill="#2c5078" stroke="#2c5078" stroke-width="0.25" font-weight="normal" textLength="7.1" lengthAdjust="spacingAndGlyphs">11</text>
<text x="392.30" y="531.20" font-size="7" text-anchor="middle" fill="#2c5078" stroke="#2c5078" stroke-width="0.25" font-weight="normal" textLength="3.55" lengthAdjust="spacingAndGlyphs">4</text>
<text x="407.24" y="531.20" font-size="7" text-anchor="middle" fill="#2c5078" stroke="#2c5078" stroke-width="0.25" font-weight="normal" textLength="3.55" lengthAdjust="spacingAndGlyphs">1</text>
<text x="422.18" y="531.20" font-size="7" text-anchor="middle" fill="#2c5078" stroke="#2c5078" stroke-width="0.25" font-weight="normal" textLength="3.55" lengthAdjust="spacingAndGlyphs">0</text>
<path d="M318.50,388.70 H337.50 V399.80 H415.60" fill="none" stroke="#c21f42" stroke-width="1.4" stroke-linejoin="miter"/>
<line x1="339.70" y1="397.40" x2="339.70" y2="402.20" stroke="#c21f42" stroke-width="0.85"/>
<line x1="349.00" y1="397.40" x2="349.00" y2="402.20" stroke="#c21f42" stroke-width="0.85"/>
<line x1="353.50" y1="397.40" x2="353.50" y2="402.20" stroke="#c21f42" stroke-width="0.85"/>
<line x1="357.00" y1="397.40" x2="357.00" y2="402.20" stroke="#c21f42" stroke-width="0.85"/>
<line x1="375.50" y1="397.40" x2="375.50" y2="402.20" stroke="#c21f42" stroke-width="0.85"/>
<line x1="415.60" y1="397.40" x2="415.60" y2="402.20" stroke="#c21f42" stroke-width="0.85"/>
<path d="M318.50,388.70 H329.40 V391.20 H410.40" fill="none" stroke="#244f82" stroke-width="1.4" stroke-linejoin="miter"/>
<line x1="342.00" y1="388.80" x2="342.00" y2="393.60" stroke="#244f82" stroke-width="0.85"/>
<line x1="346.60" y1="388.80" x2="346.60" y2="393.60" stroke="#244f82" stroke-width="0.85"/>
<line x1="353.60" y1="388.80" x2="353.60" y2="393.60" stroke="#244f82" stroke-width="0.85"/>
<line x1="354.60" y1="388.80" x2="354.60" y2="393.60" stroke="#244f82" stroke-width="0.85"/>
<line x1="355.40" y1="388.80" x2="355.40" y2="393.60" stroke="#244f82" stroke-width="0.85"/>
<line x1="360.50" y1="388.80" x2="360.50" y2="393.60" stroke="#244f82" stroke-width="0.85"/>
<line x1="361.80" y1="388.80" x2="361.80" y2="393.60" stroke="#244f82" stroke-width="0.85"/>
<line x1="376.20" y1="388.80" x2="376.20" y2="393.60" stroke="#244f82" stroke-width="0.85"/>
<line x1="377.20" y1="388.80" x2="377.20" y2="393.60" stroke="#244f82" stroke-width="0.85"/>
<line x1="378.00" y1="388.80" x2="378.00" y2="393.60" stroke="#244f82" stroke-width="0.85"/>
<line x1="390.50" y1="388.80" x2="390.50" y2="393.60" stroke="#244f82" stroke-width="0.85"/>
<line x1="399.70" y1="388.80" x2="399.70" y2="393.60" stroke="#244f82" stroke-width="0.85"/>
<line x1="403.20" y1="388.80" x2="403.20" y2="393.60" stroke="#244f82" stroke-width="0.85"/>
<line x1="406.60" y1="388.80" x2="406.60" y2="393.60" stroke="#244f82" stroke-width="0.85"/>
<line x1="409.50" y1="388.80" x2="409.50" y2="393.60" stroke="#244f82" stroke-width="0.85"/>
</g>
<rect x="0" y="0" width="520" height="1" fill="#555"/><rect x="0" y="0" width="1" height="540" fill="#5a5a5a"/><rect x="519" y="0" width="1" height="540" fill="#444"/><rect x="0" y="539" width="520" height="1" fill="#333"/>
</svg></body></html>
